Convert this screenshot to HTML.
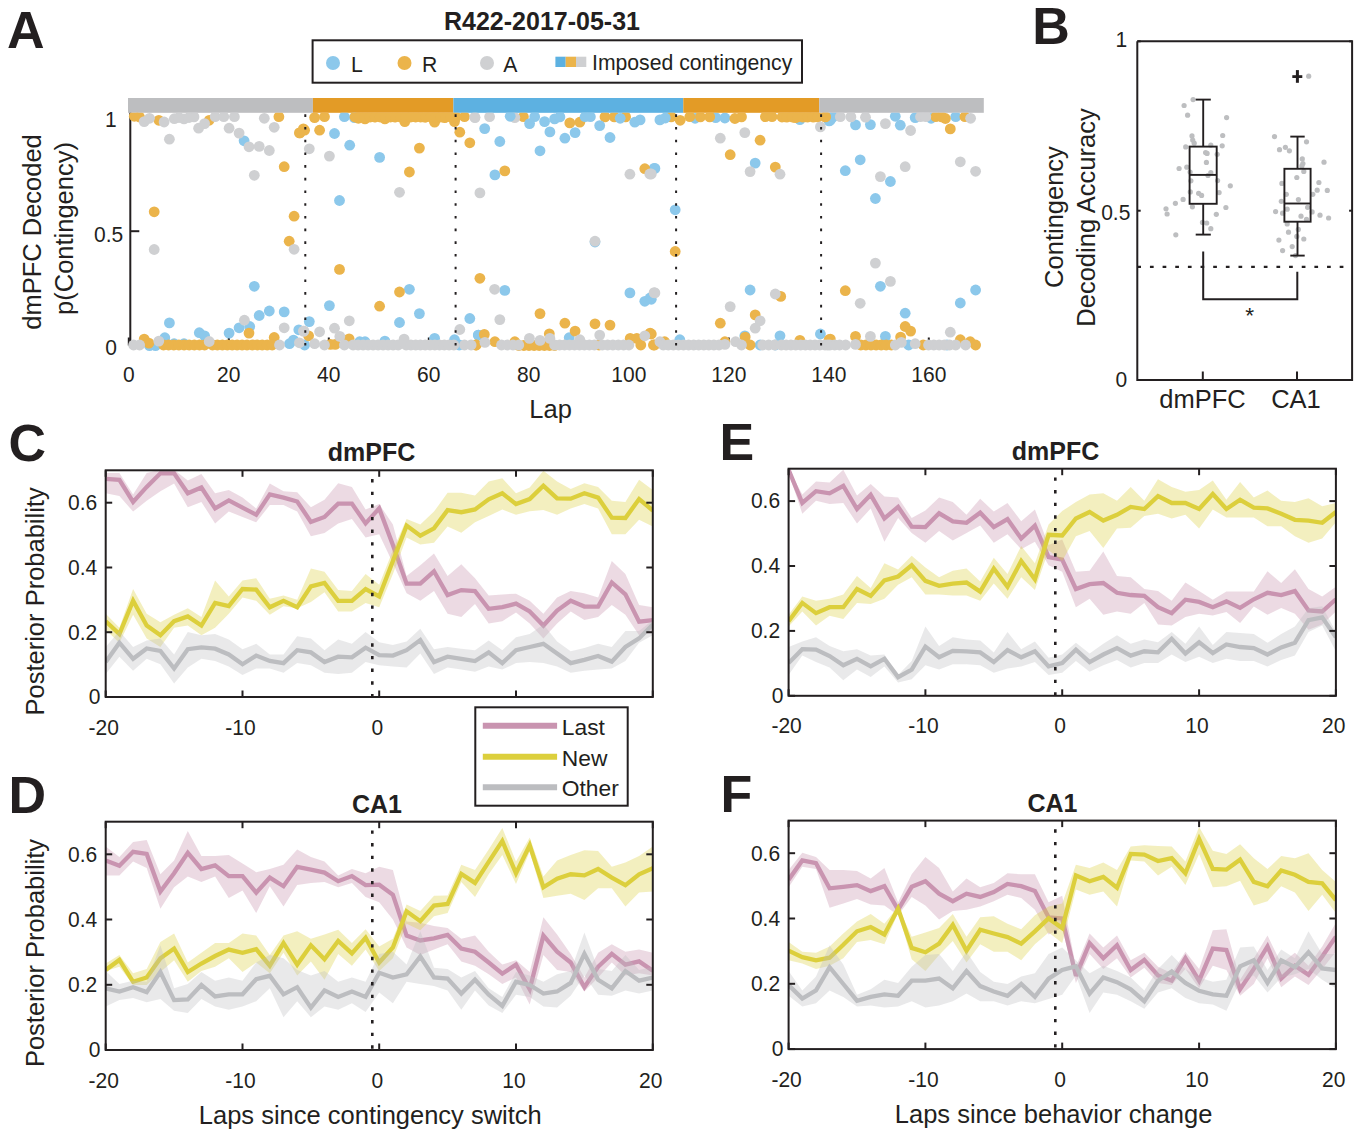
<!DOCTYPE html>
<html><head><meta charset="utf-8"><style>
html,body{margin:0;padding:0;background:#fff;}
body{width:1357px;height:1140px;overflow:hidden;font-family:"Liberation Sans", sans-serif;}
svg{display:block;}
</style></head><body>
<svg width="1357" height="1140" viewBox="0 0 1357 1140" font-family='"Liberation Sans", sans-serif'>
<rect width="1357" height="1140" fill="#ffffff"/>
<clipPath id="clip0"><rect x="105.7" y="470.3" width="547.1" height="226.7"/></clipPath>
<g clip-path="url(#clip0)">
<polygon points="105.7,472.9 119.4,472.9 133.1,494.4 146.7,472.9 160.4,469.7 174.1,469.7 187.8,480.4 201.4,474.0 215.1,493.3 228.8,490.1 242.5,497.6 256.2,508.4 269.8,483.6 283.5,491.2 297.2,492.2 310.9,507.3 324.5,499.8 338.2,483.2 351.9,486.9 365.6,509.4 379.2,504.1 392.9,524.5 406.6,576.1 420.3,565.3 434.0,553.5 447.6,576.1 461.3,564.3 475.0,578.2 488.7,595.4 502.3,594.4 516.0,593.7 529.7,600.8 543.4,613.7 557.1,597.6 570.7,591.1 584.4,593.3 598.1,597.6 611.8,561.0 625.4,573.9 639.1,605.1 652.8,607.2 652.8,633.0 639.1,635.2 625.4,614.8 611.8,605.1 598.1,616.9 584.4,620.1 570.7,611.5 557.1,623.4 543.4,638.4 529.7,623.4 516.0,612.6 502.3,621.2 488.7,623.4 475.0,604.0 461.3,616.9 447.6,613.7 434.0,591.1 420.3,600.8 406.6,593.3 392.9,563.2 379.2,534.2 365.6,537.4 351.9,519.1 338.2,523.4 324.5,533.1 310.9,536.3 297.2,511.6 283.5,505.1 269.8,505.1 256.2,522.3 242.5,517.0 228.8,511.6 215.1,523.4 201.4,501.9 187.8,507.3 174.1,483.6 160.4,491.2 146.7,500.8 133.1,511.6 119.4,496.1 105.7,493.3" fill="#c994b0" fill-opacity="0.35" stroke="none"/>
<polyline points="105.7,478.9 119.4,479.8 133.1,501.9 146.7,486.9 160.4,473.3 174.1,473.3 187.8,493.3 201.4,487.5 215.1,508.4 228.8,500.4 242.5,507.7 256.2,514.8 269.8,494.4 283.5,497.6 297.2,501.5 310.9,521.9 324.5,517.0 338.2,503.6 351.9,503.6 365.6,523.4 379.2,508.4 392.9,544.9 406.6,583.6 420.3,583.6 434.0,571.3 447.6,595.0 461.3,590.1 475.0,591.1 488.7,608.8 502.3,607.2 516.0,603.6 529.7,611.5 543.4,625.5 557.1,610.5 570.7,600.8 584.4,606.6 598.1,606.6 611.8,582.5 625.4,594.4 639.1,621.7 652.8,620.1" fill="none" stroke="#c994b0" stroke-width="4.3" stroke-linejoin="miter" stroke-miterlimit="3"/>
<polygon points="105.7,613.7 119.4,627.7 133.1,589.0 146.7,613.7 160.4,622.3 174.1,614.8 187.8,608.3 201.4,616.9 215.1,580.4 228.8,596.5 242.5,580.4 256.2,578.2 269.8,598.7 283.5,595.4 297.2,599.7 310.9,568.6 324.5,571.8 338.2,590.1 351.9,591.1 365.6,573.9 379.2,584.7 392.9,550.3 406.6,519.1 420.3,524.5 434.0,511.6 447.6,492.7 461.3,492.7 475.0,495.5 488.7,481.5 502.3,478.3 516.0,493.3 529.7,487.5 543.4,470.7 557.1,481.5 570.7,489.0 584.4,483.2 598.1,486.9 611.8,500.8 625.4,501.9 639.1,479.8 652.8,490.1 652.8,526.6 639.1,519.8 625.4,534.2 611.8,534.2 598.1,508.4 584.4,504.1 570.7,508.4 557.1,514.8 543.4,509.9 529.7,511.2 516.0,514.8 502.3,509.4 488.7,515.9 475.0,522.3 461.3,532.7 447.6,526.6 434.0,542.8 420.3,544.5 406.6,537.4 392.9,573.9 379.2,607.2 365.6,602.9 351.9,611.5 338.2,611.5 324.5,592.2 310.9,601.9 297.2,608.3 283.5,606.2 269.8,614.8 256.2,600.8 242.5,597.6 228.8,613.7 215.1,627.7 201.4,635.2 187.8,625.5 174.1,627.7 160.4,647.0 146.7,638.4 133.1,614.8 119.4,642.7 105.7,629.8" fill="#dccf3c" fill-opacity="0.33" stroke="none"/>
<polyline points="105.7,621.2 119.4,634.1 133.1,600.8 146.7,625.5 160.4,635.2 174.1,621.2 187.8,616.5 201.4,625.5 215.1,602.9 228.8,606.2 242.5,589.0 256.2,589.6 269.8,607.2 283.5,600.8 297.2,607.2 310.9,586.4 324.5,583.0 338.2,600.8 351.9,600.8 365.6,589.0 379.2,596.5 392.9,561.0 406.6,525.6 420.3,535.7 434.0,528.4 447.6,510.1 461.3,512.2 475.0,509.4 488.7,499.3 502.3,493.3 516.0,504.1 529.7,499.1 543.4,485.8 557.1,498.3 570.7,498.7 584.4,493.3 598.1,497.6 611.8,517.6 625.4,518.0 639.1,499.1 652.8,510.5" fill="none" stroke="#dccf3c" stroke-width="4.3" stroke-linejoin="miter" stroke-miterlimit="3"/>
<polygon points="105.7,647.0 119.4,630.9 133.1,647.0 146.7,640.6 160.4,638.4 174.1,654.5 187.8,632.0 201.4,635.2 215.1,634.1 228.8,639.5 242.5,649.2 256.2,643.8 269.8,654.5 283.5,654.5 297.2,636.3 310.9,638.4 324.5,650.2 338.2,639.5 351.9,643.8 365.6,632.0 379.2,642.2 392.9,644.9 406.6,641.6 420.3,628.7 434.0,649.2 447.6,647.0 461.3,648.7 475.0,650.2 488.7,640.6 502.3,650.2 516.0,637.3 529.7,634.1 543.4,624.4 557.1,641.6 570.7,651.3 584.4,648.1 598.1,643.8 611.8,647.0 625.4,630.9 639.1,630.9 652.8,620.1 652.8,635.2 639.1,642.7 625.4,661.0 611.8,668.5 598.1,669.6 584.4,670.7 570.7,672.8 557.1,666.4 543.4,663.1 529.7,662.1 516.0,663.1 502.3,669.6 488.7,666.4 475.0,671.7 461.3,669.6 447.6,667.4 434.0,673.9 420.3,653.5 406.6,667.4 392.9,666.4 379.2,665.3 365.6,662.1 351.9,672.8 338.2,673.9 324.5,672.8 310.9,665.3 297.2,663.1 283.5,672.8 269.8,668.5 256.2,668.5 242.5,675.0 228.8,666.4 215.1,661.0 201.4,658.8 187.8,667.4 174.1,683.6 160.4,664.2 146.7,658.8 133.1,670.7 119.4,656.7 105.7,673.9" fill="#bcbdc0" fill-opacity="0.33" stroke="none"/>
<polyline points="105.7,662.1 119.4,642.7 133.1,658.8 146.7,648.5 160.4,650.9 174.1,668.5 187.8,649.2 201.4,647.4 215.1,648.7 228.8,654.5 242.5,664.2 256.2,655.6 269.8,661.0 283.5,663.1 297.2,650.2 310.9,652.4 324.5,662.1 338.2,656.7 351.9,657.3 365.6,647.7 379.2,655.1 392.9,655.6 406.6,650.2 420.3,640.1 434.0,662.1 447.6,656.7 461.3,658.8 475.0,661.0 488.7,652.4 502.3,663.1 516.0,650.2 529.7,647.0 543.4,643.8 557.1,653.5 570.7,663.1 584.4,659.9 598.1,656.0 611.8,661.6 625.4,647.0 639.1,638.4 652.8,624.4" fill="none" stroke="#bcbdc0" stroke-width="4.3" stroke-linejoin="miter" stroke-miterlimit="3"/>
</g>
<line x1="372.3" y1="479.0" x2="372.3" y2="697.0" stroke="#231f20" stroke-width="2.6" stroke-dasharray="3.4 9.24"/>
<rect x="105.7" y="470.3" width="547.1" height="226.7" fill="none" stroke="#231f20" stroke-width="2"/>
<line x1="105.7" y1="697.0" x2="105.7" y2="690.5" stroke="#231f20" stroke-width="2"/>
<line x1="105.7" y1="470.3" x2="105.7" y2="476.8" stroke="#231f20" stroke-width="2"/>
<line x1="242.5" y1="697.0" x2="242.5" y2="690.5" stroke="#231f20" stroke-width="2"/>
<line x1="242.5" y1="470.3" x2="242.5" y2="476.8" stroke="#231f20" stroke-width="2"/>
<line x1="379.2" y1="697.0" x2="379.2" y2="690.5" stroke="#231f20" stroke-width="2"/>
<line x1="379.2" y1="470.3" x2="379.2" y2="476.8" stroke="#231f20" stroke-width="2"/>
<line x1="516.0" y1="697.0" x2="516.0" y2="690.5" stroke="#231f20" stroke-width="2"/>
<line x1="516.0" y1="470.3" x2="516.0" y2="476.8" stroke="#231f20" stroke-width="2"/>
<line x1="652.8" y1="697.0" x2="652.8" y2="690.5" stroke="#231f20" stroke-width="2"/>
<line x1="652.8" y1="470.3" x2="652.8" y2="476.8" stroke="#231f20" stroke-width="2"/>
<line x1="105.7" y1="697.0" x2="112.2" y2="697.0" stroke="#231f20" stroke-width="2"/>
<line x1="652.8" y1="697.0" x2="646.3" y2="697.0" stroke="#231f20" stroke-width="2"/>
<text transform="translate(100.5 704.3) scale(1 1.06)" x="0" y="0" font-size="21.0" text-anchor="end" fill="#231f20" >0</text>
<line x1="105.7" y1="632.2" x2="112.2" y2="632.2" stroke="#231f20" stroke-width="2"/>
<line x1="652.8" y1="632.2" x2="646.3" y2="632.2" stroke="#231f20" stroke-width="2"/>
<text transform="translate(97.2 639.5) scale(1 1.06)" x="0" y="0" font-size="21.0" text-anchor="end" fill="#231f20" >0.2</text>
<line x1="105.7" y1="567.5" x2="112.2" y2="567.5" stroke="#231f20" stroke-width="2"/>
<line x1="652.8" y1="567.5" x2="646.3" y2="567.5" stroke="#231f20" stroke-width="2"/>
<text transform="translate(97.2 574.8) scale(1 1.06)" x="0" y="0" font-size="21.0" text-anchor="end" fill="#231f20" >0.4</text>
<line x1="105.7" y1="502.7" x2="112.2" y2="502.7" stroke="#231f20" stroke-width="2"/>
<line x1="652.8" y1="502.7" x2="646.3" y2="502.7" stroke="#231f20" stroke-width="2"/>
<text transform="translate(97.2 510.0) scale(1 1.06)" x="0" y="0" font-size="21.0" text-anchor="end" fill="#231f20" >0.6</text>
<clipPath id="clip1"><rect x="105.7" y="821.7" width="547.1" height="228.3"/></clipPath>
<g clip-path="url(#clip1)">
<polygon points="105.7,846.4 119.4,857.1 133.1,842.1 146.7,839.9 160.4,874.3 174.1,860.4 187.8,830.9 201.4,856.1 215.1,856.1 228.8,855.0 242.5,863.6 256.2,872.2 269.8,869.0 283.5,864.7 297.2,849.6 310.9,857.1 324.5,861.4 338.2,875.4 351.9,869.0 365.6,873.3 379.2,866.8 392.9,870.0 406.6,921.6 420.3,922.7 434.0,925.9 447.6,928.1 461.3,938.8 475.0,935.6 488.7,951.7 502.3,964.6 516.0,960.3 529.7,972.1 543.4,917.3 557.1,934.5 570.7,953.9 584.4,977.5 598.1,952.8 611.8,944.2 625.4,951.7 639.1,949.6 652.8,952.8 652.8,975.4 639.1,973.2 625.4,975.4 611.8,962.5 598.1,977.5 584.4,991.5 570.7,972.1 557.1,970.0 543.4,954.9 529.7,1004.4 516.0,977.5 502.3,984.0 488.7,974.3 475.0,965.7 461.3,961.4 447.6,944.2 434.0,949.6 420.3,954.9 406.6,947.4 392.9,919.5 379.2,902.3 365.6,896.9 351.9,882.9 338.2,887.2 324.5,881.9 310.9,882.9 297.2,885.1 283.5,906.6 269.8,886.2 256.2,913.0 242.5,890.5 228.8,898.0 215.1,876.5 201.4,881.9 187.8,876.5 174.1,887.2 160.4,908.7 146.7,867.9 133.1,861.4 119.4,875.4 105.7,875.4" fill="#c994b0" fill-opacity="0.35" stroke="none"/>
<polyline points="105.7,860.4 119.4,865.7 133.1,851.8 146.7,853.9 160.4,891.5 174.1,873.3 187.8,852.8 201.4,869.0 215.1,865.3 228.8,876.1 242.5,876.1 256.2,892.6 269.8,877.6 283.5,886.2 297.2,866.8 310.9,869.6 324.5,872.6 338.2,881.2 351.9,876.1 365.6,885.1 379.2,884.7 392.9,894.8 406.6,935.6 420.3,940.5 434.0,938.4 447.6,935.0 461.3,948.5 475.0,951.7 488.7,962.5 502.3,973.7 516.0,964.6 529.7,989.3 543.4,935.6 557.1,951.7 570.7,962.5 584.4,987.2 598.1,966.8 611.8,953.9 625.4,964.6 639.1,961.4 652.8,970.6" fill="none" stroke="#c994b0" stroke-width="4.3" stroke-linejoin="miter" stroke-miterlimit="3"/>
<polygon points="105.7,963.5 119.4,954.9 133.1,973.2 146.7,968.9 160.4,942.1 174.1,933.5 187.8,962.5 201.4,952.8 215.1,943.1 228.8,943.1 242.5,933.5 256.2,935.6 269.8,954.9 283.5,935.6 297.2,931.3 310.9,938.8 324.5,934.5 338.2,929.8 351.9,943.1 365.6,929.2 379.2,946.4 392.9,938.8 406.6,904.4 420.3,910.9 434.0,895.8 447.6,895.4 461.3,864.7 475.0,870.0 488.7,849.6 502.3,828.1 516.0,861.4 529.7,837.4 543.4,876.5 557.1,860.4 570.7,855.0 584.4,850.3 598.1,851.1 611.8,866.8 625.4,862.5 639.1,856.1 652.8,846.4 652.8,891.5 639.1,892.6 625.4,906.6 611.8,888.3 598.1,888.3 584.4,900.1 570.7,893.7 557.1,895.8 543.4,898.0 529.7,851.8 516.0,884.0 502.3,855.0 488.7,874.3 475.0,896.9 461.3,881.9 447.6,913.0 434.0,916.3 420.3,930.2 406.6,923.8 392.9,958.2 379.2,971.1 365.6,949.6 351.9,965.7 338.2,953.9 324.5,979.7 310.9,961.4 297.2,975.4 283.5,952.8 269.8,973.2 256.2,962.5 242.5,972.1 228.8,958.2 215.1,966.8 201.4,971.1 187.8,981.8 174.1,960.3 160.4,972.1 146.7,985.0 133.1,985.0 119.4,966.8 105.7,971.1" fill="#dccf3c" fill-opacity="0.33" stroke="none"/>
<polyline points="105.7,970.0 119.4,959.9 133.1,981.8 146.7,977.5 160.4,958.2 174.1,948.5 187.8,972.1 201.4,963.5 215.1,956.0 228.8,949.6 242.5,952.8 256.2,949.1 269.8,965.7 283.5,943.1 297.2,964.6 310.9,945.3 324.5,959.2 338.2,941.0 351.9,953.4 365.6,937.8 379.2,962.5 392.9,947.4 406.6,911.3 420.3,921.2 434.0,905.5 447.6,904.0 461.3,873.9 475.0,882.9 488.7,861.9 502.3,841.0 516.0,873.3 529.7,845.3 543.4,887.2 557.1,878.6 570.7,874.3 584.4,875.4 598.1,869.0 611.8,877.6 625.4,885.1 639.1,874.3 652.8,868.3" fill="none" stroke="#dccf3c" stroke-width="4.3" stroke-linejoin="miter" stroke-miterlimit="3"/>
<polygon points="105.7,971.1 119.4,984.0 133.1,980.7 146.7,981.8 160.4,945.3 174.1,988.3 187.8,984.0 201.4,972.1 215.1,980.7 228.8,977.5 242.5,980.7 256.2,962.5 269.8,954.9 283.5,958.2 297.2,970.0 310.9,975.4 324.5,971.1 338.2,981.8 351.9,977.5 365.6,981.8 379.2,953.9 392.9,951.7 406.6,964.6 420.3,931.3 434.0,967.8 447.6,968.9 461.3,977.5 475.0,971.1 488.7,988.3 502.3,996.9 516.0,972.1 529.7,975.4 543.4,981.8 557.1,974.3 570.7,971.1 584.4,932.4 598.1,968.9 611.8,971.1 625.4,954.9 639.1,970.0 652.8,966.8 652.8,990.4 639.1,993.6 625.4,990.4 611.8,995.8 598.1,994.7 584.4,975.4 570.7,995.8 557.1,1007.6 543.4,1006.5 529.7,996.9 516.0,994.7 502.3,1013.0 488.7,1005.5 475.0,990.4 461.3,1009.8 447.6,990.4 434.0,986.1 420.3,984.0 406.6,981.8 392.9,1003.3 379.2,992.6 365.6,1011.9 351.9,1003.3 338.2,1009.8 324.5,1006.5 310.9,1017.3 297.2,1001.2 283.5,1017.3 269.8,988.3 256.2,1001.2 242.5,1006.5 228.8,1009.8 215.1,1006.5 201.4,999.0 187.8,1013.0 174.1,1010.8 160.4,999.0 146.7,1002.2 133.1,997.9 119.4,1000.1 105.7,1006.5" fill="#bcbdc0" fill-opacity="0.33" stroke="none"/>
<polyline points="105.7,988.3 119.4,991.5 133.1,987.2 146.7,992.1 160.4,972.1 174.1,1000.1 187.8,999.4 201.4,985.0 215.1,996.4 228.8,994.3 242.5,994.3 256.2,979.2 269.8,975.8 283.5,994.3 297.2,987.2 310.9,1007.6 324.5,990.4 338.2,996.9 351.9,991.5 365.6,996.9 379.2,972.8 392.9,977.5 406.6,974.3 420.3,956.5 434.0,977.5 447.6,978.6 461.3,993.6 475.0,979.7 488.7,994.7 502.3,1005.9 516.0,981.8 529.7,985.0 543.4,993.6 557.1,991.5 570.7,982.9 584.4,953.9 598.1,979.7 611.8,988.3 625.4,971.1 639.1,980.7 652.8,977.5" fill="none" stroke="#bcbdc0" stroke-width="4.3" stroke-linejoin="miter" stroke-miterlimit="3"/>
</g>
<line x1="372.3" y1="830.4" x2="372.3" y2="1050.0" stroke="#231f20" stroke-width="2.6" stroke-dasharray="3.4 9.24"/>
<rect x="105.7" y="821.7" width="547.1" height="228.3" fill="none" stroke="#231f20" stroke-width="2"/>
<line x1="105.7" y1="1050.0" x2="105.7" y2="1043.5" stroke="#231f20" stroke-width="2"/>
<line x1="105.7" y1="821.7" x2="105.7" y2="828.2" stroke="#231f20" stroke-width="2"/>
<line x1="242.5" y1="1050.0" x2="242.5" y2="1043.5" stroke="#231f20" stroke-width="2"/>
<line x1="242.5" y1="821.7" x2="242.5" y2="828.2" stroke="#231f20" stroke-width="2"/>
<line x1="379.2" y1="1050.0" x2="379.2" y2="1043.5" stroke="#231f20" stroke-width="2"/>
<line x1="379.2" y1="821.7" x2="379.2" y2="828.2" stroke="#231f20" stroke-width="2"/>
<line x1="516.0" y1="1050.0" x2="516.0" y2="1043.5" stroke="#231f20" stroke-width="2"/>
<line x1="516.0" y1="821.7" x2="516.0" y2="828.2" stroke="#231f20" stroke-width="2"/>
<line x1="652.8" y1="1050.0" x2="652.8" y2="1043.5" stroke="#231f20" stroke-width="2"/>
<line x1="652.8" y1="821.7" x2="652.8" y2="828.2" stroke="#231f20" stroke-width="2"/>
<line x1="105.7" y1="1050.0" x2="112.2" y2="1050.0" stroke="#231f20" stroke-width="2"/>
<line x1="652.8" y1="1050.0" x2="646.3" y2="1050.0" stroke="#231f20" stroke-width="2"/>
<text transform="translate(100.5 1057.3) scale(1 1.06)" x="0" y="0" font-size="21.0" text-anchor="end" fill="#231f20" >0</text>
<line x1="105.7" y1="984.8" x2="112.2" y2="984.8" stroke="#231f20" stroke-width="2"/>
<line x1="652.8" y1="984.8" x2="646.3" y2="984.8" stroke="#231f20" stroke-width="2"/>
<text transform="translate(97.2 992.1) scale(1 1.06)" x="0" y="0" font-size="21.0" text-anchor="end" fill="#231f20" >0.2</text>
<line x1="105.7" y1="919.5" x2="112.2" y2="919.5" stroke="#231f20" stroke-width="2"/>
<line x1="652.8" y1="919.5" x2="646.3" y2="919.5" stroke="#231f20" stroke-width="2"/>
<text transform="translate(97.2 926.8) scale(1 1.06)" x="0" y="0" font-size="21.0" text-anchor="end" fill="#231f20" >0.4</text>
<line x1="105.7" y1="854.3" x2="112.2" y2="854.3" stroke="#231f20" stroke-width="2"/>
<line x1="652.8" y1="854.3" x2="646.3" y2="854.3" stroke="#231f20" stroke-width="2"/>
<text transform="translate(97.2 861.6) scale(1 1.06)" x="0" y="0" font-size="21.0" text-anchor="end" fill="#231f20" >0.6</text>
<clipPath id="clip2"><rect x="788.6" y="468.7" width="547.3" height="227.1"/></clipPath>
<g clip-path="url(#clip2)">
<polygon points="788.6,468.6 802.3,494.4 816.0,481.5 829.6,482.6 843.3,469.7 857.0,495.5 870.7,484.1 884.4,496.5 898.1,497.6 911.7,518.0 925.4,510.5 939.1,497.6 952.8,501.9 966.5,514.8 980.2,498.7 993.8,511.6 1007.5,503.0 1021.2,521.3 1034.9,509.4 1048.6,544.9 1062.2,539.5 1075.9,571.8 1089.6,570.7 1103.3,551.4 1117.0,576.1 1130.7,577.2 1144.3,589.0 1158.0,591.1 1171.7,600.8 1185.4,582.5 1199.1,591.1 1212.8,599.7 1226.4,591.6 1240.1,591.6 1253.8,591.6 1267.5,571.3 1281.2,583.0 1294.9,569.2 1308.5,589.0 1322.2,596.5 1335.9,586.8 1335.9,611.5 1322.2,624.4 1308.5,629.8 1294.9,613.7 1281.2,607.9 1267.5,614.8 1253.8,606.6 1240.1,622.9 1226.4,612.0 1212.8,615.6 1199.1,613.7 1185.4,616.9 1171.7,625.5 1158.0,624.4 1144.3,602.9 1130.7,613.7 1117.0,611.5 1103.3,614.8 1089.6,598.7 1075.9,607.2 1062.2,571.8 1048.6,565.3 1034.9,541.7 1021.2,549.2 1007.5,534.2 993.8,542.8 980.2,525.6 966.5,533.1 952.8,540.6 939.1,530.9 925.4,542.8 911.7,533.1 898.1,518.0 884.4,541.7 870.7,508.4 857.0,523.4 843.3,503.0 829.6,504.1 816.0,500.8 802.3,513.7 788.6,472.9" fill="#c994b0" fill-opacity="0.35" stroke="none"/>
<polyline points="788.6,469.7 802.3,503.0 816.0,491.2 829.6,493.3 843.3,485.8 857.0,509.0 870.7,494.8 884.4,518.5 898.1,506.9 911.7,526.6 925.4,527.1 939.1,513.3 952.8,521.3 966.5,522.8 980.2,512.7 993.8,527.1 1007.5,519.1 1021.2,538.5 1034.9,525.6 1048.6,557.2 1062.2,559.6 1075.9,589.0 1089.6,584.2 1103.3,583.0 1117.0,592.8 1130.7,595.0 1144.3,595.9 1158.0,607.2 1171.7,613.1 1185.4,599.7 1199.1,601.9 1212.8,607.2 1226.4,601.4 1240.1,607.9 1253.8,599.3 1267.5,592.8 1281.2,595.0 1294.9,591.1 1308.5,610.5 1322.2,611.5 1335.9,599.3" fill="none" stroke="#c994b0" stroke-width="4.3" stroke-linejoin="miter" stroke-miterlimit="3"/>
<polygon points="788.6,614.8 802.3,596.5 816.0,600.8 829.6,598.7 843.3,594.4 857.0,576.1 870.7,587.9 884.4,563.2 898.1,569.6 911.7,555.7 925.4,567.5 939.1,577.2 952.8,570.7 966.5,568.6 980.2,581.5 993.8,557.8 1007.5,573.9 1021.2,546.0 1034.9,563.2 1048.6,524.5 1062.2,511.1 1075.9,501.9 1089.6,494.4 1103.3,493.3 1117.0,500.8 1130.7,486.9 1144.3,500.8 1158.0,479.3 1171.7,486.9 1185.4,491.8 1199.1,490.1 1212.8,480.4 1226.4,499.8 1240.1,481.9 1253.8,497.6 1267.5,490.5 1281.2,500.8 1294.9,501.9 1308.5,498.3 1322.2,506.2 1335.9,503.0 1335.9,522.3 1322.2,538.5 1308.5,542.8 1294.9,536.3 1281.2,526.2 1267.5,526.2 1253.8,517.6 1240.1,517.6 1226.4,517.6 1212.8,509.4 1199.1,528.4 1185.4,514.8 1171.7,518.5 1158.0,513.7 1144.3,515.9 1130.7,527.7 1117.0,528.4 1103.3,548.1 1089.6,530.9 1075.9,536.3 1062.2,561.0 1048.6,550.3 1034.9,590.1 1021.2,577.2 1007.5,598.7 993.8,583.6 980.2,600.8 966.5,595.4 952.8,595.4 939.1,594.4 925.4,594.4 911.7,577.2 898.1,584.7 884.4,598.7 870.7,604.0 857.0,602.9 843.3,619.1 829.6,615.8 816.0,625.5 802.3,611.5 788.6,626.6" fill="#dccf3c" fill-opacity="0.33" stroke="none"/>
<polyline points="788.6,621.2 802.3,602.9 816.0,613.1 829.6,607.2 843.3,607.2 857.0,589.0 870.7,595.9 884.4,580.4 898.1,576.5 911.7,565.3 925.4,580.8 939.1,585.8 952.8,583.6 966.5,582.5 980.2,591.6 993.8,568.6 1007.5,586.8 1021.2,561.0 1034.9,579.3 1048.6,534.8 1062.2,535.5 1075.9,518.5 1089.6,512.0 1103.3,520.6 1117.0,514.8 1130.7,506.9 1144.3,509.0 1158.0,496.1 1171.7,503.0 1185.4,503.0 1199.1,509.0 1212.8,494.0 1226.4,509.0 1240.1,499.8 1253.8,507.7 1267.5,508.4 1281.2,513.7 1294.9,519.8 1308.5,520.6 1322.2,522.8 1335.9,512.0" fill="none" stroke="#dccf3c" stroke-width="4.3" stroke-linejoin="miter" stroke-miterlimit="3"/>
<polygon points="788.6,647.0 802.3,641.6 816.0,637.3 829.6,645.9 843.3,651.3 857.0,649.2 870.7,655.6 884.4,654.5 898.1,675.0 911.7,661.0 925.4,626.6 939.1,645.9 952.8,637.3 966.5,639.5 980.2,640.6 993.8,652.4 1007.5,632.0 1021.2,649.2 1034.9,641.6 1048.6,657.8 1062.2,654.5 1075.9,642.7 1089.6,653.5 1103.3,643.8 1117.0,635.2 1130.7,643.8 1144.3,639.5 1158.0,642.3 1171.7,632.0 1185.4,643.8 1199.1,626.6 1212.8,644.9 1226.4,632.0 1240.1,633.0 1253.8,634.1 1267.5,642.7 1281.2,634.1 1294.9,626.6 1308.5,608.3 1322.2,606.2 1335.9,632.0 1335.9,651.3 1322.2,625.5 1308.5,632.0 1294.9,655.6 1281.2,659.9 1267.5,666.4 1253.8,661.0 1240.1,661.0 1226.4,658.8 1212.8,663.1 1199.1,656.7 1185.4,662.1 1171.7,654.5 1158.0,663.1 1144.3,663.1 1130.7,667.4 1117.0,659.9 1103.3,665.3 1089.6,671.7 1075.9,661.0 1062.2,672.8 1048.6,675.0 1034.9,662.1 1021.2,666.4 1007.5,668.5 993.8,672.8 980.2,665.3 966.5,664.2 952.8,664.2 939.1,669.6 925.4,665.3 911.7,679.3 898.1,682.5 884.4,666.4 870.7,677.1 857.0,669.6 843.3,680.3 829.6,667.4 816.0,662.1 802.3,655.6 788.6,675.0" fill="#bcbdc0" fill-opacity="0.33" stroke="none"/>
<polyline points="788.6,663.1 802.3,649.2 816.0,649.6 829.6,656.0 843.3,665.3 857.0,658.8 870.7,666.4 884.4,658.8 898.1,677.1 911.7,669.6 925.4,646.6 939.1,657.3 952.8,650.9 966.5,651.3 980.2,652.4 993.8,662.1 1007.5,650.2 1021.2,657.3 1034.9,651.3 1048.6,666.4 1062.2,663.1 1075.9,649.6 1089.6,662.1 1103.3,654.5 1117.0,648.1 1130.7,655.6 1144.3,651.3 1158.0,652.4 1171.7,638.8 1185.4,653.5 1199.1,642.3 1212.8,653.0 1226.4,644.4 1240.1,647.0 1253.8,648.1 1267.5,654.5 1281.2,647.4 1294.9,642.7 1308.5,620.1 1322.2,617.4 1335.9,637.3" fill="none" stroke="#bcbdc0" stroke-width="4.3" stroke-linejoin="miter" stroke-miterlimit="3"/>
</g>
<line x1="1055.3" y1="477.4" x2="1055.3" y2="695.8" stroke="#231f20" stroke-width="2.6" stroke-dasharray="3.4 9.24"/>
<rect x="788.6" y="468.7" width="547.3" height="227.1" fill="none" stroke="#231f20" stroke-width="2"/>
<line x1="788.6" y1="695.8" x2="788.6" y2="689.3" stroke="#231f20" stroke-width="2"/>
<line x1="788.6" y1="468.7" x2="788.6" y2="475.2" stroke="#231f20" stroke-width="2"/>
<line x1="925.4" y1="695.8" x2="925.4" y2="689.3" stroke="#231f20" stroke-width="2"/>
<line x1="925.4" y1="468.7" x2="925.4" y2="475.2" stroke="#231f20" stroke-width="2"/>
<line x1="1062.2" y1="695.8" x2="1062.2" y2="689.3" stroke="#231f20" stroke-width="2"/>
<line x1="1062.2" y1="468.7" x2="1062.2" y2="475.2" stroke="#231f20" stroke-width="2"/>
<line x1="1199.1" y1="695.8" x2="1199.1" y2="689.3" stroke="#231f20" stroke-width="2"/>
<line x1="1199.1" y1="468.7" x2="1199.1" y2="475.2" stroke="#231f20" stroke-width="2"/>
<line x1="1335.9" y1="695.8" x2="1335.9" y2="689.3" stroke="#231f20" stroke-width="2"/>
<line x1="1335.9" y1="468.7" x2="1335.9" y2="475.2" stroke="#231f20" stroke-width="2"/>
<line x1="788.6" y1="695.8" x2="795.1" y2="695.8" stroke="#231f20" stroke-width="2"/>
<line x1="1335.9" y1="695.8" x2="1329.4" y2="695.8" stroke="#231f20" stroke-width="2"/>
<text transform="translate(783.4 703.1) scale(1 1.06)" x="0" y="0" font-size="21.0" text-anchor="end" fill="#231f20" >0</text>
<line x1="788.6" y1="630.9" x2="795.1" y2="630.9" stroke="#231f20" stroke-width="2"/>
<line x1="1335.9" y1="630.9" x2="1329.4" y2="630.9" stroke="#231f20" stroke-width="2"/>
<text transform="translate(780.1 638.2) scale(1 1.06)" x="0" y="0" font-size="21.0" text-anchor="end" fill="#231f20" >0.2</text>
<line x1="788.6" y1="566.0" x2="795.1" y2="566.0" stroke="#231f20" stroke-width="2"/>
<line x1="1335.9" y1="566.0" x2="1329.4" y2="566.0" stroke="#231f20" stroke-width="2"/>
<text transform="translate(780.1 573.3) scale(1 1.06)" x="0" y="0" font-size="21.0" text-anchor="end" fill="#231f20" >0.4</text>
<line x1="788.6" y1="501.1" x2="795.1" y2="501.1" stroke="#231f20" stroke-width="2"/>
<line x1="1335.9" y1="501.1" x2="1329.4" y2="501.1" stroke="#231f20" stroke-width="2"/>
<text transform="translate(780.1 508.4) scale(1 1.06)" x="0" y="0" font-size="21.0" text-anchor="end" fill="#231f20" >0.6</text>
<clipPath id="clip3"><rect x="788.6" y="820.6" width="547.3" height="228.5"/></clipPath>
<g clip-path="url(#clip3)">
<polygon points="788.6,870.0 802.3,852.8 816.0,857.1 829.6,870.0 843.3,870.0 857.0,871.1 870.7,878.6 884.4,867.9 898.1,902.3 911.7,874.3 925.4,857.1 939.1,867.9 952.8,891.5 966.5,878.6 980.2,887.2 993.8,882.9 1007.5,873.3 1021.2,874.3 1034.9,874.3 1048.6,902.3 1062.2,895.8 1075.9,966.8 1089.6,933.5 1103.3,947.4 1117.0,935.6 1130.7,960.3 1144.3,952.8 1158.0,966.8 1171.7,973.2 1185.4,951.7 1199.1,968.9 1212.8,930.2 1226.4,929.2 1240.1,979.7 1253.8,958.2 1267.5,935.6 1281.2,963.5 1294.9,952.8 1308.5,965.7 1322.2,946.4 1335.9,922.7 1335.9,951.7 1322.2,968.9 1308.5,985.0 1294.9,976.4 1281.2,987.2 1267.5,958.2 1253.8,984.0 1240.1,995.8 1226.4,970.0 1212.8,965.7 1199.1,988.3 1185.4,968.9 1171.7,985.0 1158.0,982.9 1144.3,967.8 1130.7,977.5 1117.0,958.2 1103.3,968.9 1089.6,953.9 1075.9,982.9 1062.2,928.1 1048.6,934.5 1034.9,909.8 1021.2,898.0 1007.5,894.8 993.8,901.2 980.2,906.6 966.5,909.8 952.8,910.9 939.1,919.5 925.4,905.5 911.7,896.9 898.1,915.2 884.4,905.5 870.7,904.4 857.0,899.1 843.3,903.4 829.6,907.7 816.0,869.0 802.3,866.8 788.6,887.2" fill="#c994b0" fill-opacity="0.35" stroke="none"/>
<polyline points="788.6,879.7 802.3,860.4 816.0,863.2 829.6,888.3 843.3,886.8 857.0,885.1 870.7,891.1 884.4,886.2 898.1,909.8 911.7,886.8 925.4,881.2 939.1,893.7 952.8,901.2 966.5,893.7 980.2,896.9 993.8,892.0 1007.5,884.0 1021.2,886.2 1034.9,891.1 1048.6,917.3 1062.2,918.4 1075.9,975.8 1089.6,943.1 1103.3,958.2 1117.0,945.3 1130.7,970.0 1144.3,959.9 1158.0,975.4 1171.7,980.7 1185.4,958.2 1199.1,980.7 1212.8,948.5 1226.4,950.0 1240.1,989.3 1253.8,968.9 1267.5,946.4 1281.2,978.6 1294.9,965.7 1308.5,974.9 1322.2,956.5 1335.9,936.7" fill="none" stroke="#c994b0" stroke-width="4.3" stroke-linejoin="miter" stroke-miterlimit="3"/>
<polygon points="788.6,942.1 802.3,951.7 816.0,952.8 829.6,946.4 843.3,933.5 857.0,921.6 870.7,914.1 884.4,923.8 898.1,906.6 911.7,936.7 925.4,932.4 939.1,928.1 952.8,914.1 966.5,936.7 980.2,917.3 993.8,916.3 1007.5,923.8 1021.2,929.2 1034.9,915.2 1048.6,906.6 1062.2,903.4 1075.9,864.7 1089.6,867.9 1103.3,862.5 1117.0,870.0 1130.7,846.4 1144.3,845.3 1158.0,846.0 1171.7,846.4 1185.4,861.4 1199.1,827.0 1212.8,850.7 1226.4,853.9 1240.1,844.2 1253.8,858.2 1267.5,869.0 1281.2,856.1 1294.9,858.2 1308.5,853.3 1322.2,870.0 1335.9,881.9 1335.9,913.0 1322.2,894.8 1308.5,910.9 1294.9,892.6 1281.2,886.2 1267.5,901.2 1253.8,905.5 1240.1,880.8 1226.4,886.2 1212.8,887.2 1199.1,853.9 1185.4,885.1 1171.7,866.8 1158.0,875.4 1144.3,861.4 1130.7,860.4 1117.0,906.6 1103.3,891.5 1089.6,894.8 1075.9,889.4 1062.2,943.1 1048.6,932.4 1034.9,944.2 1021.2,960.3 1007.5,951.7 993.8,951.7 980.2,944.2 966.5,962.5 952.8,941.0 939.1,954.9 925.4,971.1 911.7,959.2 898.1,913.0 884.4,944.2 870.7,939.9 857.0,942.1 843.3,958.2 829.6,965.7 816.0,968.9 802.3,963.5 788.6,960.3" fill="#dccf3c" fill-opacity="0.33" stroke="none"/>
<polyline points="788.6,950.7 802.3,957.1 816.0,960.3 829.6,957.7 843.3,944.8 857.0,931.3 870.7,927.0 884.4,934.5 898.1,908.7 911.7,947.9 925.4,952.2 939.1,943.6 952.8,924.9 966.5,950.7 980.2,929.8 993.8,933.5 1007.5,937.1 1021.2,943.6 1034.9,931.3 1048.6,918.4 1062.2,928.1 1075.9,875.4 1089.6,881.2 1103.3,876.9 1117.0,887.7 1130.7,853.9 1144.3,854.6 1158.0,861.0 1171.7,858.2 1185.4,873.3 1199.1,838.9 1212.8,869.0 1226.4,869.6 1240.1,859.7 1253.8,881.9 1267.5,886.2 1281.2,870.5 1294.9,874.8 1308.5,881.9 1322.2,883.4 1335.9,900.1" fill="none" stroke="#dccf3c" stroke-width="4.3" stroke-linejoin="miter" stroke-miterlimit="3"/>
<polygon points="788.6,971.1 802.3,990.4 816.0,976.4 829.6,945.3 843.3,964.6 857.0,994.7 870.7,989.3 884.4,979.7 898.1,982.9 911.7,966.8 925.4,954.9 939.1,953.9 952.8,971.1 966.5,951.7 980.2,972.1 993.8,981.8 1007.5,984.0 1021.2,976.4 1034.9,973.2 1048.6,953.9 1062.2,947.4 1075.9,960.3 1089.6,973.2 1103.3,965.7 1117.0,971.1 1130.7,977.5 1144.3,990.4 1158.0,968.9 1171.7,954.9 1185.4,968.9 1199.1,977.5 1212.8,981.8 1226.4,979.7 1240.1,947.4 1253.8,946.4 1267.5,970.0 1281.2,949.6 1294.9,958.2 1308.5,931.3 1322.2,953.9 1335.9,953.9 1335.9,988.3 1322.2,979.7 1308.5,968.9 1294.9,974.3 1281.2,977.5 1267.5,992.6 1253.8,975.4 1240.1,981.8 1226.4,1010.8 1212.8,1004.4 1199.1,1003.3 1185.4,997.9 1171.7,988.3 1158.0,992.6 1144.3,1008.7 1130.7,1001.2 1117.0,994.7 1103.3,992.6 1089.6,1013.0 1075.9,975.4 1062.2,994.7 1048.6,999.0 1034.9,1003.3 1021.2,1001.2 1007.5,1005.5 993.8,1001.2 980.2,1001.2 966.5,993.6 952.8,1001.2 939.1,1005.5 925.4,1007.6 911.7,1001.2 898.1,1006.5 884.4,1007.6 870.7,1005.5 857.0,1006.5 843.3,996.9 829.6,990.4 816.0,1003.3 802.3,1006.5 788.6,995.8" fill="#bcbdc0" fill-opacity="0.33" stroke="none"/>
<polyline points="788.6,985.0 802.3,998.6 816.0,990.4 829.6,967.2 843.3,984.0 857.0,1000.7 870.7,996.9 884.4,994.3 898.1,995.8 911.7,980.7 925.4,980.7 939.1,978.6 952.8,988.3 966.5,971.1 980.2,986.1 993.8,991.5 1007.5,995.8 1021.2,984.0 1034.9,996.9 1048.6,978.6 1062.2,970.0 1075.9,966.3 1089.6,993.6 1103.3,977.5 1117.0,982.2 1130.7,989.3 1144.3,1001.2 1158.0,980.7 1171.7,971.5 1185.4,982.9 1199.1,990.8 1212.8,994.3 1226.4,995.8 1240.1,966.3 1253.8,960.3 1267.5,982.9 1281.2,960.3 1294.9,967.2 1308.5,952.2 1322.2,968.5 1335.9,970.0" fill="none" stroke="#bcbdc0" stroke-width="4.3" stroke-linejoin="miter" stroke-miterlimit="3"/>
</g>
<line x1="1055.3" y1="829.3" x2="1055.3" y2="1049.1" stroke="#231f20" stroke-width="2.6" stroke-dasharray="3.4 9.24"/>
<rect x="788.6" y="820.6" width="547.3" height="228.5" fill="none" stroke="#231f20" stroke-width="2"/>
<line x1="788.6" y1="1049.1" x2="788.6" y2="1042.6" stroke="#231f20" stroke-width="2"/>
<line x1="788.6" y1="820.6" x2="788.6" y2="827.1" stroke="#231f20" stroke-width="2"/>
<line x1="925.4" y1="1049.1" x2="925.4" y2="1042.6" stroke="#231f20" stroke-width="2"/>
<line x1="925.4" y1="820.6" x2="925.4" y2="827.1" stroke="#231f20" stroke-width="2"/>
<line x1="1062.2" y1="1049.1" x2="1062.2" y2="1042.6" stroke="#231f20" stroke-width="2"/>
<line x1="1062.2" y1="820.6" x2="1062.2" y2="827.1" stroke="#231f20" stroke-width="2"/>
<line x1="1199.1" y1="1049.1" x2="1199.1" y2="1042.6" stroke="#231f20" stroke-width="2"/>
<line x1="1199.1" y1="820.6" x2="1199.1" y2="827.1" stroke="#231f20" stroke-width="2"/>
<line x1="1335.9" y1="1049.1" x2="1335.9" y2="1042.6" stroke="#231f20" stroke-width="2"/>
<line x1="1335.9" y1="820.6" x2="1335.9" y2="827.1" stroke="#231f20" stroke-width="2"/>
<line x1="788.6" y1="1049.1" x2="795.1" y2="1049.1" stroke="#231f20" stroke-width="2"/>
<line x1="1335.9" y1="1049.1" x2="1329.4" y2="1049.1" stroke="#231f20" stroke-width="2"/>
<text transform="translate(783.4 1056.4) scale(1 1.06)" x="0" y="0" font-size="21.0" text-anchor="end" fill="#231f20" >0</text>
<line x1="788.6" y1="983.8" x2="795.1" y2="983.8" stroke="#231f20" stroke-width="2"/>
<line x1="1335.9" y1="983.8" x2="1329.4" y2="983.8" stroke="#231f20" stroke-width="2"/>
<text transform="translate(780.1 991.1) scale(1 1.06)" x="0" y="0" font-size="21.0" text-anchor="end" fill="#231f20" >0.2</text>
<line x1="788.6" y1="918.5" x2="795.1" y2="918.5" stroke="#231f20" stroke-width="2"/>
<line x1="1335.9" y1="918.5" x2="1329.4" y2="918.5" stroke="#231f20" stroke-width="2"/>
<text transform="translate(780.1 925.8) scale(1 1.06)" x="0" y="0" font-size="21.0" text-anchor="end" fill="#231f20" >0.4</text>
<line x1="788.6" y1="853.2" x2="795.1" y2="853.2" stroke="#231f20" stroke-width="2"/>
<line x1="1335.9" y1="853.2" x2="1329.4" y2="853.2" stroke="#231f20" stroke-width="2"/>
<text transform="translate(780.1 860.5) scale(1 1.06)" x="0" y="0" font-size="21.0" text-anchor="end" fill="#231f20" >0.6</text>
<text transform="translate(103.7 734.5) scale(1 1.06)" x="0" y="0" font-size="21.0" text-anchor="middle" fill="#231f20" >-20</text>
<text transform="translate(240.5 734.5) scale(1 1.06)" x="0" y="0" font-size="21.0" text-anchor="middle" fill="#231f20" >-10</text>
<text transform="translate(377.3 734.5) scale(1 1.06)" x="0" y="0" font-size="21.0" text-anchor="middle" fill="#231f20" >0</text>
<text transform="translate(103.7 1087.5) scale(1 1.06)" x="0" y="0" font-size="21.0" text-anchor="middle" fill="#231f20" >-20</text>
<text transform="translate(240.5 1087.5) scale(1 1.06)" x="0" y="0" font-size="21.0" text-anchor="middle" fill="#231f20" >-10</text>
<text transform="translate(377.3 1087.5) scale(1 1.06)" x="0" y="0" font-size="21.0" text-anchor="middle" fill="#231f20" >0</text>
<text transform="translate(514.0 1087.5) scale(1 1.06)" x="0" y="0" font-size="21.0" text-anchor="middle" fill="#231f20" >10</text>
<text transform="translate(650.8 1087.5) scale(1 1.06)" x="0" y="0" font-size="21.0" text-anchor="middle" fill="#231f20" >20</text>
<text transform="translate(786.6 733.0) scale(1 1.06)" x="0" y="0" font-size="21.0" text-anchor="middle" fill="#231f20" >-20</text>
<text transform="translate(923.4 733.0) scale(1 1.06)" x="0" y="0" font-size="21.0" text-anchor="middle" fill="#231f20" >-10</text>
<text transform="translate(1060.2 733.0) scale(1 1.06)" x="0" y="0" font-size="21.0" text-anchor="middle" fill="#231f20" >0</text>
<text transform="translate(1197.0 733.0) scale(1 1.06)" x="0" y="0" font-size="21.0" text-anchor="middle" fill="#231f20" >10</text>
<text transform="translate(1333.8 733.0) scale(1 1.06)" x="0" y="0" font-size="21.0" text-anchor="middle" fill="#231f20" >20</text>
<text transform="translate(786.6 1086.5) scale(1 1.06)" x="0" y="0" font-size="21.0" text-anchor="middle" fill="#231f20" >-20</text>
<text transform="translate(923.4 1086.5) scale(1 1.06)" x="0" y="0" font-size="21.0" text-anchor="middle" fill="#231f20" >-10</text>
<text transform="translate(1060.2 1086.5) scale(1 1.06)" x="0" y="0" font-size="21.0" text-anchor="middle" fill="#231f20" >0</text>
<text transform="translate(1197.0 1086.5) scale(1 1.06)" x="0" y="0" font-size="21.0" text-anchor="middle" fill="#231f20" >10</text>
<text transform="translate(1333.8 1086.5) scale(1 1.06)" x="0" y="0" font-size="21.0" text-anchor="middle" fill="#231f20" >20</text>
<text x="371.6" y="461.2" font-size="25.0" text-anchor="middle" font-weight="bold" fill="#231f20" >dmPFC</text>
<text x="377.0" y="812.5" font-size="25.0" text-anchor="middle" font-weight="bold" fill="#231f20" >CA1</text>
<text x="1055.5" y="459.5" font-size="25.0" text-anchor="middle" font-weight="bold" fill="#231f20" >dmPFC</text>
<text x="1052.5" y="811.5" font-size="25.0" text-anchor="middle" font-weight="bold" fill="#231f20" >CA1</text>
<text x="44.0" y="601.4" font-size="25.5" text-anchor="middle" transform="rotate(-90 44.0 601.4)" fill="#231f20" >Posterior Probability</text>
<text x="44.0" y="953.0" font-size="25.5" text-anchor="middle" transform="rotate(-90 44.0 953.0)" fill="#231f20" >Posterior Probability</text>
<text x="370.3" y="1124.2" font-size="25.5" text-anchor="middle" fill="#231f20" >Laps since contingency switch</text>
<text x="1053.6" y="1123.2" font-size="25.5" text-anchor="middle" fill="#231f20" >Laps since behavior change</text>
<rect x="475.3" y="707.3" width="152.4" height="98.4" fill="#ffffff" stroke="#231f20" stroke-width="2"/>
<line x1="482.8" y1="725.8" x2="557.1" y2="725.8" stroke="#c994b0" stroke-width="6"/>
<text x="561.8" y="734.6" font-size="22.8" text-anchor="start" fill="#231f20" >Last</text>
<line x1="482.8" y1="756.7" x2="557.1" y2="756.7" stroke="#dccf3c" stroke-width="6"/>
<text x="561.8" y="765.5" font-size="22.8" text-anchor="start" fill="#231f20" >New</text>
<line x1="482.8" y1="787.2" x2="557.1" y2="787.2" stroke="#bcbdc0" stroke-width="6"/>
<text x="561.8" y="796.0" font-size="22.8" text-anchor="start" fill="#231f20" >Other</text>
<text x="7.1" y="47.8" font-size="52.0" text-anchor="start" font-weight="bold" fill="#231f20" >A</text>
<text x="1032.3" y="43.9" font-size="52.0" text-anchor="start" font-weight="bold" fill="#231f20" >B</text>
<text x="8.6" y="460.5" font-size="52.0" text-anchor="start" font-weight="bold" fill="#231f20" >C</text>
<text x="8.6" y="812.5" font-size="52.0" text-anchor="start" font-weight="bold" fill="#231f20" >D</text>
<text x="719.5" y="460.3" font-size="52.0" text-anchor="start" font-weight="bold" fill="#231f20" >E</text>
<text x="720.5" y="812.3" font-size="52.0" text-anchor="start" font-weight="bold" fill="#231f20" >F</text>
<rect x="128.0" y="98.0" width="184.89999999999998" height="14.8" fill="#bdbec0"/>
<rect x="312.9" y="98.0" width="140.5" height="14.8" fill="#e39b26"/>
<rect x="453.4" y="98.0" width="229.89999999999998" height="14.8" fill="#5db1e1"/>
<rect x="683.3" y="98.0" width="135.9000000000001" height="14.8" fill="#e39b26"/>
<rect x="819.2" y="98.0" width="164.5999999999999" height="14.8" fill="#bdbec0"/>
<line x1="130.3" y1="112.8" x2="130.3" y2="347.5" stroke="#231f20" stroke-width="2"/>
<line x1="130.3" y1="117.0" x2="139.3" y2="117.0" stroke="#231f20" stroke-width="2"/>
<text transform="translate(110.8 126.9) scale(1 1.06)" x="0" y="0" font-size="21.0" text-anchor="middle" fill="#231f20" >1</text>
<line x1="130.3" y1="231.2" x2="139.3" y2="231.2" stroke="#231f20" stroke-width="2"/>
<text transform="translate(108.6 241.8) scale(1 1.06)" x="0" y="0" font-size="21.0" text-anchor="middle" fill="#231f20" >0.5</text>
<line x1="130.3" y1="345.5" x2="139.3" y2="345.5" stroke="#231f20" stroke-width="2"/>
<text transform="translate(111.2 355.2) scale(1 1.06)" x="0" y="0" font-size="21.0" text-anchor="middle" fill="#231f20" >0</text>
<line x1="128.8" y1="345.5" x2="128.8" y2="337.5" stroke="#231f20" stroke-width="2"/>
<text transform="translate(128.8 381.5) scale(1 1.06)" x="0" y="0" font-size="21.0" text-anchor="middle" fill="#231f20" >0</text>
<line x1="228.8" y1="345.5" x2="228.8" y2="337.5" stroke="#231f20" stroke-width="2"/>
<text transform="translate(228.8 381.5) scale(1 1.06)" x="0" y="0" font-size="21.0" text-anchor="middle" fill="#231f20" >20</text>
<line x1="328.8" y1="345.5" x2="328.8" y2="337.5" stroke="#231f20" stroke-width="2"/>
<text transform="translate(328.8 381.5) scale(1 1.06)" x="0" y="0" font-size="21.0" text-anchor="middle" fill="#231f20" >40</text>
<line x1="428.8" y1="345.5" x2="428.8" y2="337.5" stroke="#231f20" stroke-width="2"/>
<text transform="translate(428.8 381.5) scale(1 1.06)" x="0" y="0" font-size="21.0" text-anchor="middle" fill="#231f20" >60</text>
<line x1="528.8" y1="345.5" x2="528.8" y2="337.5" stroke="#231f20" stroke-width="2"/>
<text transform="translate(528.8 381.5) scale(1 1.06)" x="0" y="0" font-size="21.0" text-anchor="middle" fill="#231f20" >80</text>
<line x1="628.8" y1="345.5" x2="628.8" y2="337.5" stroke="#231f20" stroke-width="2"/>
<text transform="translate(628.8 381.5) scale(1 1.06)" x="0" y="0" font-size="21.0" text-anchor="middle" fill="#231f20" >100</text>
<line x1="728.8" y1="345.5" x2="728.8" y2="337.5" stroke="#231f20" stroke-width="2"/>
<text transform="translate(728.8 381.5) scale(1 1.06)" x="0" y="0" font-size="21.0" text-anchor="middle" fill="#231f20" >120</text>
<line x1="828.8" y1="345.5" x2="828.8" y2="337.5" stroke="#231f20" stroke-width="2"/>
<text transform="translate(828.8 381.5) scale(1 1.06)" x="0" y="0" font-size="21.0" text-anchor="middle" fill="#231f20" >140</text>
<line x1="928.8" y1="345.5" x2="928.8" y2="337.5" stroke="#231f20" stroke-width="2"/>
<text transform="translate(928.8 381.5) scale(1 1.06)" x="0" y="0" font-size="21.0" text-anchor="middle" fill="#231f20" >160</text>
<clipPath id="clipA"><rect x="100" y="112.8" width="900" height="260"/></clipPath>
<g clip-path="url(#clipA)">
<circle cx="244.1" cy="140.8" r="5.4" fill="#8cc8eb"/>
<circle cx="254.3" cy="286.3" r="5.4" fill="#8cc8eb"/>
<circle cx="169.4" cy="322.9" r="5.4" fill="#8cc8eb"/>
<circle cx="199.3" cy="332.7" r="5.4" fill="#8cc8eb"/>
<circle cx="204.6" cy="335.8" r="5.4" fill="#8cc8eb"/>
<circle cx="229.1" cy="333.1" r="5.4" fill="#8cc8eb"/>
<circle cx="239.1" cy="327.8" r="5.4" fill="#8cc8eb"/>
<circle cx="249.7" cy="326.5" r="5.4" fill="#8cc8eb"/>
<circle cx="259.2" cy="315.5" r="5.4" fill="#8cc8eb"/>
<circle cx="269.3" cy="311.0" r="5.4" fill="#8cc8eb"/>
<circle cx="284.2" cy="311.9" r="5.4" fill="#8cc8eb"/>
<circle cx="298.8" cy="329.8" r="5.4" fill="#8cc8eb"/>
<circle cx="293.5" cy="340.1" r="5.4" fill="#8cc8eb"/>
<circle cx="164.8" cy="337.7" r="5.4" fill="#8cc8eb"/>
<circle cx="289.5" cy="343.7" r="5.4" fill="#8cc8eb"/>
<circle cx="174.1" cy="343.7" r="5.4" fill="#8cc8eb"/>
<circle cx="184.0" cy="343.7" r="5.4" fill="#8cc8eb"/>
<circle cx="149.5" cy="345.7" r="5.4" fill="#8cc8eb"/>
<circle cx="155.5" cy="345.7" r="5.4" fill="#8cc8eb"/>
<circle cx="344.4" cy="116.7" r="5.4" fill="#8cc8eb"/>
<circle cx="354.4" cy="117.6" r="5.4" fill="#8cc8eb"/>
<circle cx="334.5" cy="133.5" r="5.4" fill="#8cc8eb"/>
<circle cx="349.7" cy="145.2" r="5.4" fill="#8cc8eb"/>
<circle cx="379.6" cy="157.4" r="5.4" fill="#8cc8eb"/>
<circle cx="339.5" cy="200.5" r="5.4" fill="#8cc8eb"/>
<circle cx="329.4" cy="305.6" r="5.4" fill="#8cc8eb"/>
<circle cx="309.3" cy="321.6" r="5.4" fill="#8cc8eb"/>
<circle cx="409.4" cy="289.3" r="5.4" fill="#8cc8eb"/>
<circle cx="399.5" cy="322.5" r="5.4" fill="#8cc8eb"/>
<circle cx="419.4" cy="313.6" r="5.4" fill="#8cc8eb"/>
<circle cx="434.6" cy="338.4" r="5.4" fill="#8cc8eb"/>
<circle cx="454.5" cy="339.7" r="5.4" fill="#8cc8eb"/>
<circle cx="469.8" cy="318.5" r="5.4" fill="#8cc8eb"/>
<circle cx="478.4" cy="335.1" r="5.4" fill="#8cc8eb"/>
<circle cx="304.6" cy="345.0" r="5.4" fill="#8cc8eb"/>
<circle cx="359.7" cy="341.7" r="5.4" fill="#8cc8eb"/>
<circle cx="365.0" cy="341.7" r="5.4" fill="#8cc8eb"/>
<circle cx="384.9" cy="341.1" r="5.4" fill="#8cc8eb"/>
<circle cx="459.2" cy="345.0" r="5.4" fill="#8cc8eb"/>
<circle cx="499.8" cy="141.5" r="5.4" fill="#8cc8eb"/>
<circle cx="564.9" cy="138.2" r="5.4" fill="#8cc8eb"/>
<circle cx="610.0" cy="137.5" r="5.4" fill="#8cc8eb"/>
<circle cx="540.0" cy="150.8" r="5.4" fill="#8cc8eb"/>
<circle cx="494.9" cy="174.9" r="5.4" fill="#8cc8eb"/>
<circle cx="654.1" cy="168.4" r="5.4" fill="#8cc8eb"/>
<circle cx="595.0" cy="242.0" r="5.4" fill="#8cc8eb"/>
<circle cx="504.8" cy="290.4" r="5.4" fill="#8cc8eb"/>
<circle cx="629.9" cy="292.9" r="5.4" fill="#8cc8eb"/>
<circle cx="644.8" cy="301.3" r="5.4" fill="#8cc8eb"/>
<circle cx="650.1" cy="298.0" r="5.4" fill="#8cc8eb"/>
<circle cx="478.3" cy="335.1" r="5.4" fill="#8cc8eb"/>
<circle cx="569.2" cy="337.7" r="5.4" fill="#8cc8eb"/>
<circle cx="695.1" cy="118.3" r="5.4" fill="#8cc8eb"/>
<circle cx="715.7" cy="117.6" r="5.4" fill="#8cc8eb"/>
<circle cx="724.9" cy="118.0" r="5.4" fill="#8cc8eb"/>
<circle cx="799.9" cy="119.6" r="5.4" fill="#8cc8eb"/>
<circle cx="829.1" cy="120.9" r="5.4" fill="#8cc8eb"/>
<circle cx="755.2" cy="163.1" r="5.4" fill="#8cc8eb"/>
<circle cx="654.9" cy="168.4" r="5.4" fill="#8cc8eb"/>
<circle cx="675.2" cy="209.8" r="5.4" fill="#8cc8eb"/>
<circle cx="651.3" cy="299.3" r="5.4" fill="#8cc8eb"/>
<circle cx="750.1" cy="290.0" r="5.4" fill="#8cc8eb"/>
<circle cx="744.8" cy="335.8" r="5.4" fill="#8cc8eb"/>
<circle cx="780.0" cy="335.8" r="5.4" fill="#8cc8eb"/>
<circle cx="820.4" cy="334.0" r="5.4" fill="#8cc8eb"/>
<circle cx="679.8" cy="339.7" r="5.4" fill="#8cc8eb"/>
<circle cx="760.1" cy="345.0" r="5.4" fill="#8cc8eb"/>
<circle cx="775.3" cy="345.0" r="5.4" fill="#8cc8eb"/>
<circle cx="830.3" cy="120.3" r="5.4" fill="#8cc8eb"/>
<circle cx="833.0" cy="116.9" r="5.4" fill="#8cc8eb"/>
<circle cx="855.5" cy="124.9" r="5.4" fill="#8cc8eb"/>
<circle cx="870.4" cy="124.6" r="5.4" fill="#8cc8eb"/>
<circle cx="895.3" cy="116.3" r="5.4" fill="#8cc8eb"/>
<circle cx="900.3" cy="125.2" r="5.4" fill="#8cc8eb"/>
<circle cx="915.2" cy="117.6" r="5.4" fill="#8cc8eb"/>
<circle cx="931.1" cy="118.3" r="5.4" fill="#8cc8eb"/>
<circle cx="955.7" cy="116.7" r="5.4" fill="#8cc8eb"/>
<circle cx="860.2" cy="159.8" r="5.4" fill="#8cc8eb"/>
<circle cx="845.3" cy="170.7" r="5.4" fill="#8cc8eb"/>
<circle cx="890.4" cy="181.5" r="5.4" fill="#8cc8eb"/>
<circle cx="875.4" cy="198.5" r="5.4" fill="#8cc8eb"/>
<circle cx="880.4" cy="286.3" r="5.4" fill="#8cc8eb"/>
<circle cx="905.2" cy="313.2" r="5.4" fill="#8cc8eb"/>
<circle cx="975.6" cy="290.0" r="5.4" fill="#8cc8eb"/>
<circle cx="960.3" cy="303.0" r="5.4" fill="#8cc8eb"/>
<circle cx="885.4" cy="336.4" r="5.4" fill="#8cc8eb"/>
<circle cx="908.6" cy="345.0" r="5.4" fill="#8cc8eb"/>
<circle cx="947.0" cy="345.0" r="5.4" fill="#8cc8eb"/>
<circle cx="134.3" cy="116.3" r="5.4" fill="#ebb44b"/>
<circle cx="158.8" cy="120.3" r="5.4" fill="#ebb44b"/>
<circle cx="209.2" cy="120.3" r="5.4" fill="#ebb44b"/>
<circle cx="278.9" cy="116.7" r="5.4" fill="#ebb44b"/>
<circle cx="299.4" cy="132.9" r="5.4" fill="#ebb44b"/>
<circle cx="303.4" cy="128.9" r="5.4" fill="#ebb44b"/>
<circle cx="284.2" cy="166.7" r="5.4" fill="#ebb44b"/>
<circle cx="154.2" cy="211.8" r="5.4" fill="#ebb44b"/>
<circle cx="294.1" cy="216.2" r="5.4" fill="#ebb44b"/>
<circle cx="289.2" cy="241.2" r="5.4" fill="#ebb44b"/>
<circle cx="249.0" cy="333.1" r="5.4" fill="#ebb44b"/>
<circle cx="274.2" cy="337.5" r="5.4" fill="#ebb44b"/>
<circle cx="144.2" cy="339.1" r="5.4" fill="#ebb44b"/>
<circle cx="148.9" cy="343.1" r="5.4" fill="#ebb44b"/>
<circle cx="314.6" cy="117.6" r="5.4" fill="#ebb44b"/>
<circle cx="324.5" cy="116.7" r="5.4" fill="#ebb44b"/>
<circle cx="358.4" cy="118.3" r="5.4" fill="#ebb44b"/>
<circle cx="365.0" cy="118.9" r="5.4" fill="#ebb44b"/>
<circle cx="374.3" cy="116.9" r="5.4" fill="#ebb44b"/>
<circle cx="384.9" cy="118.9" r="5.4" fill="#ebb44b"/>
<circle cx="394.2" cy="116.9" r="5.4" fill="#ebb44b"/>
<circle cx="404.8" cy="121.6" r="5.4" fill="#ebb44b"/>
<circle cx="414.7" cy="116.7" r="5.4" fill="#ebb44b"/>
<circle cx="424.7" cy="117.2" r="5.4" fill="#ebb44b"/>
<circle cx="434.6" cy="122.2" r="5.4" fill="#ebb44b"/>
<circle cx="444.6" cy="117.6" r="5.4" fill="#ebb44b"/>
<circle cx="454.5" cy="121.6" r="5.4" fill="#ebb44b"/>
<circle cx="464.5" cy="116.7" r="5.4" fill="#ebb44b"/>
<circle cx="304.6" cy="130.2" r="5.4" fill="#ebb44b"/>
<circle cx="300.0" cy="132.9" r="5.4" fill="#ebb44b"/>
<circle cx="319.6" cy="130.2" r="5.4" fill="#ebb44b"/>
<circle cx="419.4" cy="148.1" r="5.4" fill="#ebb44b"/>
<circle cx="409.4" cy="172.0" r="5.4" fill="#ebb44b"/>
<circle cx="459.8" cy="132.2" r="5.4" fill="#ebb44b"/>
<circle cx="469.8" cy="142.8" r="5.4" fill="#ebb44b"/>
<circle cx="339.5" cy="269.4" r="5.4" fill="#ebb44b"/>
<circle cx="308.6" cy="335.8" r="5.4" fill="#ebb44b"/>
<circle cx="349.1" cy="338.8" r="5.4" fill="#ebb44b"/>
<circle cx="379.6" cy="306.2" r="5.4" fill="#ebb44b"/>
<circle cx="399.5" cy="292.0" r="5.4" fill="#ebb44b"/>
<circle cx="330.5" cy="344.4" r="5.4" fill="#ebb44b"/>
<circle cx="335.2" cy="344.4" r="5.4" fill="#ebb44b"/>
<circle cx="475.8" cy="345.0" r="5.4" fill="#ebb44b"/>
<circle cx="523.4" cy="116.7" r="5.4" fill="#ebb44b"/>
<circle cx="569.8" cy="122.9" r="5.4" fill="#ebb44b"/>
<circle cx="579.8" cy="122.2" r="5.4" fill="#ebb44b"/>
<circle cx="605.0" cy="116.9" r="5.4" fill="#ebb44b"/>
<circle cx="614.3" cy="116.9" r="5.4" fill="#ebb44b"/>
<circle cx="625.6" cy="116.9" r="5.4" fill="#ebb44b"/>
<circle cx="504.8" cy="170.9" r="5.4" fill="#ebb44b"/>
<circle cx="644.8" cy="168.7" r="5.4" fill="#ebb44b"/>
<circle cx="479.9" cy="278.3" r="5.4" fill="#ebb44b"/>
<circle cx="540.0" cy="313.6" r="5.4" fill="#ebb44b"/>
<circle cx="564.9" cy="323.2" r="5.4" fill="#ebb44b"/>
<circle cx="575.1" cy="331.1" r="5.4" fill="#ebb44b"/>
<circle cx="595.0" cy="323.8" r="5.4" fill="#ebb44b"/>
<circle cx="610.0" cy="325.1" r="5.4" fill="#ebb44b"/>
<circle cx="484.3" cy="334.4" r="5.4" fill="#ebb44b"/>
<circle cx="494.9" cy="341.7" r="5.4" fill="#ebb44b"/>
<circle cx="476.3" cy="345.0" r="5.4" fill="#ebb44b"/>
<circle cx="514.8" cy="341.7" r="5.4" fill="#ebb44b"/>
<circle cx="549.3" cy="333.8" r="5.4" fill="#ebb44b"/>
<circle cx="599.0" cy="345.0" r="5.4" fill="#ebb44b"/>
<circle cx="630.2" cy="338.4" r="5.4" fill="#ebb44b"/>
<circle cx="636.8" cy="338.4" r="5.4" fill="#ebb44b"/>
<circle cx="650.1" cy="333.1" r="5.4" fill="#ebb44b"/>
<circle cx="653.4" cy="345.0" r="5.4" fill="#ebb44b"/>
<circle cx="640.8" cy="345.0" r="5.4" fill="#ebb44b"/>
<circle cx="671.2" cy="116.9" r="5.4" fill="#ebb44b"/>
<circle cx="680.2" cy="120.3" r="5.4" fill="#ebb44b"/>
<circle cx="689.8" cy="116.7" r="5.4" fill="#ebb44b"/>
<circle cx="700.4" cy="116.9" r="5.4" fill="#ebb44b"/>
<circle cx="709.7" cy="116.9" r="5.4" fill="#ebb44b"/>
<circle cx="734.9" cy="118.5" r="5.4" fill="#ebb44b"/>
<circle cx="741.5" cy="116.9" r="5.4" fill="#ebb44b"/>
<circle cx="765.4" cy="116.7" r="5.4" fill="#ebb44b"/>
<circle cx="772.0" cy="116.7" r="5.4" fill="#ebb44b"/>
<circle cx="785.3" cy="116.9" r="5.4" fill="#ebb44b"/>
<circle cx="795.2" cy="117.6" r="5.4" fill="#ebb44b"/>
<circle cx="805.2" cy="116.9" r="5.4" fill="#ebb44b"/>
<circle cx="814.5" cy="116.9" r="5.4" fill="#ebb44b"/>
<circle cx="825.1" cy="116.9" r="5.4" fill="#ebb44b"/>
<circle cx="760.1" cy="140.2" r="5.4" fill="#ebb44b"/>
<circle cx="730.2" cy="154.7" r="5.4" fill="#ebb44b"/>
<circle cx="775.3" cy="167.1" r="5.4" fill="#ebb44b"/>
<circle cx="675.2" cy="251.5" r="5.4" fill="#ebb44b"/>
<circle cx="720.3" cy="323.2" r="5.4" fill="#ebb44b"/>
<circle cx="780.7" cy="296.4" r="5.4" fill="#ebb44b"/>
<circle cx="755.2" cy="314.9" r="5.4" fill="#ebb44b"/>
<circle cx="651.3" cy="334.0" r="5.4" fill="#ebb44b"/>
<circle cx="745.2" cy="337.1" r="5.4" fill="#ebb44b"/>
<circle cx="750.1" cy="345.0" r="5.4" fill="#ebb44b"/>
<circle cx="799.9" cy="340.4" r="5.4" fill="#ebb44b"/>
<circle cx="829.1" cy="339.7" r="5.4" fill="#ebb44b"/>
<circle cx="654.6" cy="345.0" r="5.4" fill="#ebb44b"/>
<circle cx="664.6" cy="341.7" r="5.4" fill="#ebb44b"/>
<circle cx="724.9" cy="341.7" r="5.4" fill="#ebb44b"/>
<circle cx="825.7" cy="116.7" r="5.4" fill="#ebb44b"/>
<circle cx="935.8" cy="116.7" r="5.4" fill="#ebb44b"/>
<circle cx="941.7" cy="116.9" r="5.4" fill="#ebb44b"/>
<circle cx="945.4" cy="118.5" r="5.4" fill="#ebb44b"/>
<circle cx="950.3" cy="128.9" r="5.4" fill="#ebb44b"/>
<circle cx="964.9" cy="116.7" r="5.4" fill="#ebb44b"/>
<circle cx="845.3" cy="290.7" r="5.4" fill="#ebb44b"/>
<circle cx="905.2" cy="326.5" r="5.4" fill="#ebb44b"/>
<circle cx="910.6" cy="331.1" r="5.4" fill="#ebb44b"/>
<circle cx="830.3" cy="339.1" r="5.4" fill="#ebb44b"/>
<circle cx="855.5" cy="336.4" r="5.4" fill="#ebb44b"/>
<circle cx="900.6" cy="337.1" r="5.4" fill="#ebb44b"/>
<circle cx="923.2" cy="345.0" r="5.4" fill="#ebb44b"/>
<circle cx="960.3" cy="339.7" r="5.4" fill="#ebb44b"/>
<circle cx="970.2" cy="341.7" r="5.4" fill="#ebb44b"/>
<circle cx="975.6" cy="345.0" r="5.4" fill="#ebb44b"/>
<circle cx="139.5" cy="117.0" r="5.4" fill="#ebb44b"/>
<circle cx="163.5" cy="345.0" r="5.4" fill="#ebb44b"/>
<circle cx="168.6" cy="345.0" r="5.4" fill="#ebb44b"/>
<circle cx="173.8" cy="345.0" r="5.4" fill="#ebb44b"/>
<circle cx="178.9" cy="345.0" r="5.4" fill="#ebb44b"/>
<circle cx="184.1" cy="345.0" r="5.4" fill="#ebb44b"/>
<circle cx="189.2" cy="345.0" r="5.4" fill="#ebb44b"/>
<circle cx="194.3" cy="345.0" r="5.4" fill="#ebb44b"/>
<circle cx="199.5" cy="345.0" r="5.4" fill="#ebb44b"/>
<circle cx="204.6" cy="345.0" r="5.4" fill="#ebb44b"/>
<circle cx="212.5" cy="345.0" r="5.4" fill="#ebb44b"/>
<circle cx="217.4" cy="345.0" r="5.4" fill="#ebb44b"/>
<circle cx="222.4" cy="345.0" r="5.4" fill="#ebb44b"/>
<circle cx="227.3" cy="345.0" r="5.4" fill="#ebb44b"/>
<circle cx="232.2" cy="345.0" r="5.4" fill="#ebb44b"/>
<circle cx="237.1" cy="345.0" r="5.4" fill="#ebb44b"/>
<circle cx="242.1" cy="345.0" r="5.4" fill="#ebb44b"/>
<circle cx="247.0" cy="345.0" r="5.4" fill="#ebb44b"/>
<circle cx="252.3" cy="345.0" r="5.4" fill="#ebb44b"/>
<circle cx="257.3" cy="345.0" r="5.4" fill="#ebb44b"/>
<circle cx="262.2" cy="345.0" r="5.4" fill="#ebb44b"/>
<circle cx="267.2" cy="345.0" r="5.4" fill="#ebb44b"/>
<circle cx="272.2" cy="345.0" r="5.4" fill="#ebb44b"/>
<circle cx="860.8" cy="345.0" r="5.4" fill="#ebb44b"/>
<circle cx="865.9" cy="345.0" r="5.4" fill="#ebb44b"/>
<circle cx="871.0" cy="345.0" r="5.4" fill="#ebb44b"/>
<circle cx="876.1" cy="345.0" r="5.4" fill="#ebb44b"/>
<circle cx="881.2" cy="345.0" r="5.4" fill="#ebb44b"/>
<circle cx="886.2" cy="345.0" r="5.4" fill="#ebb44b"/>
<circle cx="891.3" cy="345.0" r="5.4" fill="#ebb44b"/>
<circle cx="355.0" cy="117.0" r="5.4" fill="#ebb44b"/>
<circle cx="360.1" cy="117.0" r="5.4" fill="#ebb44b"/>
<circle cx="365.1" cy="117.0" r="5.4" fill="#ebb44b"/>
<circle cx="370.1" cy="117.0" r="5.4" fill="#ebb44b"/>
<circle cx="375.2" cy="117.0" r="5.4" fill="#ebb44b"/>
<circle cx="380.2" cy="117.0" r="5.4" fill="#ebb44b"/>
<circle cx="385.3" cy="117.0" r="5.4" fill="#ebb44b"/>
<circle cx="390.4" cy="117.0" r="5.4" fill="#ebb44b"/>
<circle cx="395.4" cy="117.0" r="5.4" fill="#ebb44b"/>
<circle cx="400.4" cy="117.0" r="5.4" fill="#ebb44b"/>
<circle cx="405.5" cy="117.0" r="5.4" fill="#ebb44b"/>
<circle cx="410.6" cy="117.0" r="5.4" fill="#ebb44b"/>
<circle cx="415.6" cy="117.0" r="5.4" fill="#ebb44b"/>
<circle cx="420.6" cy="117.0" r="5.4" fill="#ebb44b"/>
<circle cx="425.7" cy="117.0" r="5.4" fill="#ebb44b"/>
<circle cx="430.8" cy="117.0" r="5.4" fill="#ebb44b"/>
<circle cx="435.8" cy="117.0" r="5.4" fill="#ebb44b"/>
<circle cx="440.9" cy="117.0" r="5.4" fill="#ebb44b"/>
<circle cx="445.9" cy="117.0" r="5.4" fill="#ebb44b"/>
<circle cx="450.9" cy="117.0" r="5.4" fill="#ebb44b"/>
<circle cx="456.0" cy="117.0" r="5.4" fill="#ebb44b"/>
<circle cx="782.0" cy="117.0" r="5.4" fill="#ebb44b"/>
<circle cx="787.1" cy="117.0" r="5.4" fill="#ebb44b"/>
<circle cx="792.3" cy="117.0" r="5.4" fill="#ebb44b"/>
<circle cx="797.4" cy="117.0" r="5.4" fill="#ebb44b"/>
<circle cx="802.6" cy="117.0" r="5.4" fill="#ebb44b"/>
<circle cx="807.7" cy="117.0" r="5.4" fill="#ebb44b"/>
<circle cx="812.9" cy="117.0" r="5.4" fill="#ebb44b"/>
<circle cx="818.0" cy="117.0" r="5.4" fill="#ebb44b"/>
<circle cx="518.8" cy="345.5" r="5.4" fill="#ebb44b"/>
<circle cx="523.9" cy="345.5" r="5.4" fill="#ebb44b"/>
<circle cx="529.0" cy="345.5" r="5.4" fill="#ebb44b"/>
<circle cx="534.1" cy="345.5" r="5.4" fill="#ebb44b"/>
<circle cx="539.2" cy="345.5" r="5.4" fill="#ebb44b"/>
<circle cx="544.4" cy="345.5" r="5.4" fill="#ebb44b"/>
<circle cx="549.5" cy="345.5" r="5.4" fill="#ebb44b"/>
<circle cx="554.6" cy="345.5" r="5.4" fill="#ebb44b"/>
<circle cx="144.2" cy="121.6" r="5.4" fill="#cfd0d2"/>
<circle cx="149.5" cy="118.3" r="5.4" fill="#cfd0d2"/>
<circle cx="164.1" cy="122.0" r="5.4" fill="#cfd0d2"/>
<circle cx="174.3" cy="118.7" r="5.4" fill="#cfd0d2"/>
<circle cx="184.0" cy="118.9" r="5.4" fill="#cfd0d2"/>
<circle cx="194.0" cy="116.9" r="5.4" fill="#cfd0d2"/>
<circle cx="198.6" cy="128.2" r="5.4" fill="#cfd0d2"/>
<circle cx="204.6" cy="123.6" r="5.4" fill="#cfd0d2"/>
<circle cx="215.2" cy="116.7" r="5.4" fill="#cfd0d2"/>
<circle cx="223.8" cy="116.7" r="5.4" fill="#cfd0d2"/>
<circle cx="234.4" cy="116.7" r="5.4" fill="#cfd0d2"/>
<circle cx="264.3" cy="118.3" r="5.4" fill="#cfd0d2"/>
<circle cx="229.1" cy="128.2" r="5.4" fill="#cfd0d2"/>
<circle cx="239.1" cy="133.1" r="5.4" fill="#cfd0d2"/>
<circle cx="249.0" cy="146.8" r="5.4" fill="#cfd0d2"/>
<circle cx="259.2" cy="146.4" r="5.4" fill="#cfd0d2"/>
<circle cx="269.3" cy="150.5" r="5.4" fill="#cfd0d2"/>
<circle cx="274.2" cy="127.3" r="5.4" fill="#cfd0d2"/>
<circle cx="169.4" cy="139.2" r="5.4" fill="#cfd0d2"/>
<circle cx="254.3" cy="175.3" r="5.4" fill="#cfd0d2"/>
<circle cx="154.2" cy="249.5" r="5.4" fill="#cfd0d2"/>
<circle cx="294.1" cy="249.3" r="5.4" fill="#cfd0d2"/>
<circle cx="244.4" cy="320.2" r="5.4" fill="#cfd0d2"/>
<circle cx="284.2" cy="327.8" r="5.4" fill="#cfd0d2"/>
<circle cx="303.4" cy="331.1" r="5.4" fill="#cfd0d2"/>
<circle cx="299.4" cy="342.8" r="5.4" fill="#cfd0d2"/>
<circle cx="158.8" cy="341.1" r="5.4" fill="#cfd0d2"/>
<circle cx="209.2" cy="341.5" r="5.4" fill="#cfd0d2"/>
<circle cx="133.6" cy="345.0" r="5.4" fill="#cfd0d2"/>
<circle cx="139.6" cy="345.0" r="5.4" fill="#cfd0d2"/>
<circle cx="279.5" cy="345.0" r="5.4" fill="#cfd0d2"/>
<circle cx="474.8" cy="117.2" r="5.4" fill="#cfd0d2"/>
<circle cx="309.3" cy="148.8" r="5.4" fill="#cfd0d2"/>
<circle cx="329.4" cy="156.1" r="5.4" fill="#cfd0d2"/>
<circle cx="399.5" cy="192.3" r="5.4" fill="#cfd0d2"/>
<circle cx="349.3" cy="320.8" r="5.4" fill="#cfd0d2"/>
<circle cx="319.6" cy="331.8" r="5.4" fill="#cfd0d2"/>
<circle cx="334.5" cy="328.2" r="5.4" fill="#cfd0d2"/>
<circle cx="339.8" cy="336.4" r="5.4" fill="#cfd0d2"/>
<circle cx="304.0" cy="331.1" r="5.4" fill="#cfd0d2"/>
<circle cx="404.1" cy="339.1" r="5.4" fill="#cfd0d2"/>
<circle cx="459.8" cy="329.5" r="5.4" fill="#cfd0d2"/>
<circle cx="314.6" cy="343.7" r="5.4" fill="#cfd0d2"/>
<circle cx="324.5" cy="345.0" r="5.4" fill="#cfd0d2"/>
<circle cx="344.4" cy="345.0" r="5.4" fill="#cfd0d2"/>
<circle cx="464.5" cy="345.0" r="5.4" fill="#cfd0d2"/>
<circle cx="471.1" cy="345.0" r="5.4" fill="#cfd0d2"/>
<circle cx="475.0" cy="117.6" r="5.4" fill="#cfd0d2"/>
<circle cx="489.6" cy="116.7" r="5.4" fill="#cfd0d2"/>
<circle cx="514.8" cy="117.6" r="5.4" fill="#cfd0d2"/>
<circle cx="479.9" cy="192.9" r="5.4" fill="#cfd0d2"/>
<circle cx="629.9" cy="174.2" r="5.4" fill="#cfd0d2"/>
<circle cx="649.8" cy="174.0" r="5.4" fill="#cfd0d2"/>
<circle cx="595.0" cy="241.2" r="5.4" fill="#cfd0d2"/>
<circle cx="494.6" cy="289.3" r="5.4" fill="#cfd0d2"/>
<circle cx="499.8" cy="319.6" r="5.4" fill="#cfd0d2"/>
<circle cx="599.7" cy="335.1" r="5.4" fill="#cfd0d2"/>
<circle cx="654.1" cy="292.6" r="5.4" fill="#cfd0d2"/>
<circle cx="484.9" cy="342.4" r="5.4" fill="#cfd0d2"/>
<circle cx="529.4" cy="338.4" r="5.4" fill="#cfd0d2"/>
<circle cx="540.0" cy="340.4" r="5.4" fill="#cfd0d2"/>
<circle cx="549.9" cy="338.4" r="5.4" fill="#cfd0d2"/>
<circle cx="579.8" cy="339.7" r="5.4" fill="#cfd0d2"/>
<circle cx="644.8" cy="335.8" r="5.4" fill="#cfd0d2"/>
<circle cx="820.4" cy="126.9" r="5.4" fill="#cfd0d2"/>
<circle cx="720.3" cy="138.2" r="5.4" fill="#cfd0d2"/>
<circle cx="744.8" cy="132.6" r="5.4" fill="#cfd0d2"/>
<circle cx="750.1" cy="171.6" r="5.4" fill="#cfd0d2"/>
<circle cx="780.0" cy="174.2" r="5.4" fill="#cfd0d2"/>
<circle cx="651.3" cy="174.0" r="5.4" fill="#cfd0d2"/>
<circle cx="654.9" cy="292.9" r="5.4" fill="#cfd0d2"/>
<circle cx="730.2" cy="306.6" r="5.4" fill="#cfd0d2"/>
<circle cx="775.3" cy="294.0" r="5.4" fill="#cfd0d2"/>
<circle cx="760.1" cy="320.8" r="5.4" fill="#cfd0d2"/>
<circle cx="755.2" cy="328.2" r="5.4" fill="#cfd0d2"/>
<circle cx="659.9" cy="341.7" r="5.4" fill="#cfd0d2"/>
<circle cx="724.9" cy="344.4" r="5.4" fill="#cfd0d2"/>
<circle cx="735.6" cy="341.7" r="5.4" fill="#cfd0d2"/>
<circle cx="741.5" cy="345.0" r="5.4" fill="#cfd0d2"/>
<circle cx="827.7" cy="345.0" r="5.4" fill="#cfd0d2"/>
<circle cx="840.3" cy="116.7" r="5.4" fill="#cfd0d2"/>
<circle cx="850.9" cy="116.9" r="5.4" fill="#cfd0d2"/>
<circle cx="865.5" cy="117.2" r="5.4" fill="#cfd0d2"/>
<circle cx="885.4" cy="123.6" r="5.4" fill="#cfd0d2"/>
<circle cx="910.6" cy="130.5" r="5.4" fill="#cfd0d2"/>
<circle cx="920.5" cy="116.7" r="5.4" fill="#cfd0d2"/>
<circle cx="925.8" cy="116.7" r="5.4" fill="#cfd0d2"/>
<circle cx="970.6" cy="118.3" r="5.4" fill="#cfd0d2"/>
<circle cx="880.4" cy="176.6" r="5.4" fill="#cfd0d2"/>
<circle cx="905.2" cy="166.7" r="5.4" fill="#cfd0d2"/>
<circle cx="960.3" cy="161.8" r="5.4" fill="#cfd0d2"/>
<circle cx="975.6" cy="171.3" r="5.4" fill="#cfd0d2"/>
<circle cx="875.4" cy="263.1" r="5.4" fill="#cfd0d2"/>
<circle cx="890.4" cy="281.4" r="5.4" fill="#cfd0d2"/>
<circle cx="860.2" cy="303.3" r="5.4" fill="#cfd0d2"/>
<circle cx="950.3" cy="332.2" r="5.4" fill="#cfd0d2"/>
<circle cx="845.6" cy="345.0" r="5.4" fill="#cfd0d2"/>
<circle cx="855.5" cy="344.4" r="5.4" fill="#cfd0d2"/>
<circle cx="870.4" cy="336.4" r="5.4" fill="#cfd0d2"/>
<circle cx="895.3" cy="345.0" r="5.4" fill="#cfd0d2"/>
<circle cx="901.3" cy="342.4" r="5.4" fill="#cfd0d2"/>
<circle cx="915.2" cy="343.7" r="5.4" fill="#cfd0d2"/>
<circle cx="955.7" cy="345.0" r="5.4" fill="#cfd0d2"/>
<circle cx="965.6" cy="345.0" r="5.4" fill="#cfd0d2"/>
<circle cx="179.0" cy="117.5" r="5.4" fill="#cfd0d2"/>
<circle cx="189.0" cy="117.5" r="5.4" fill="#cfd0d2"/>
<circle cx="353.1" cy="345.0" r="5.4" fill="#cfd0d2"/>
<circle cx="358.1" cy="345.0" r="5.4" fill="#cfd0d2"/>
<circle cx="363.1" cy="345.0" r="5.4" fill="#cfd0d2"/>
<circle cx="368.1" cy="345.0" r="5.4" fill="#cfd0d2"/>
<circle cx="373.1" cy="345.0" r="5.4" fill="#cfd0d2"/>
<circle cx="378.1" cy="345.0" r="5.4" fill="#cfd0d2"/>
<circle cx="383.1" cy="345.0" r="5.4" fill="#cfd0d2"/>
<circle cx="388.1" cy="345.0" r="5.4" fill="#cfd0d2"/>
<circle cx="393.1" cy="345.0" r="5.4" fill="#cfd0d2"/>
<circle cx="398.2" cy="345.0" r="5.4" fill="#cfd0d2"/>
<circle cx="406.1" cy="345.0" r="5.4" fill="#cfd0d2"/>
<circle cx="410.9" cy="345.0" r="5.4" fill="#cfd0d2"/>
<circle cx="415.7" cy="345.0" r="5.4" fill="#cfd0d2"/>
<circle cx="420.4" cy="345.0" r="5.4" fill="#cfd0d2"/>
<circle cx="425.2" cy="345.0" r="5.4" fill="#cfd0d2"/>
<circle cx="430.0" cy="345.0" r="5.4" fill="#cfd0d2"/>
<circle cx="434.8" cy="345.0" r="5.4" fill="#cfd0d2"/>
<circle cx="439.5" cy="345.0" r="5.4" fill="#cfd0d2"/>
<circle cx="444.3" cy="345.0" r="5.4" fill="#cfd0d2"/>
<circle cx="449.1" cy="345.0" r="5.4" fill="#cfd0d2"/>
<circle cx="453.9" cy="345.0" r="5.4" fill="#cfd0d2"/>
<circle cx="501.5" cy="345.0" r="5.4" fill="#cfd0d2"/>
<circle cx="507.3" cy="345.0" r="5.4" fill="#cfd0d2"/>
<circle cx="513.0" cy="345.0" r="5.4" fill="#cfd0d2"/>
<circle cx="518.8" cy="345.0" r="5.4" fill="#cfd0d2"/>
<circle cx="554.6" cy="345.0" r="5.4" fill="#cfd0d2"/>
<circle cx="559.6" cy="345.0" r="5.4" fill="#cfd0d2"/>
<circle cx="564.5" cy="345.0" r="5.4" fill="#cfd0d2"/>
<circle cx="569.5" cy="345.0" r="5.4" fill="#cfd0d2"/>
<circle cx="574.5" cy="345.0" r="5.4" fill="#cfd0d2"/>
<circle cx="579.5" cy="345.0" r="5.4" fill="#cfd0d2"/>
<circle cx="584.4" cy="345.0" r="5.4" fill="#cfd0d2"/>
<circle cx="589.4" cy="345.0" r="5.4" fill="#cfd0d2"/>
<circle cx="594.4" cy="345.0" r="5.4" fill="#cfd0d2"/>
<circle cx="602.3" cy="345.0" r="5.4" fill="#cfd0d2"/>
<circle cx="607.6" cy="345.0" r="5.4" fill="#cfd0d2"/>
<circle cx="612.9" cy="345.0" r="5.4" fill="#cfd0d2"/>
<circle cx="618.3" cy="345.0" r="5.4" fill="#cfd0d2"/>
<circle cx="623.6" cy="345.0" r="5.4" fill="#cfd0d2"/>
<circle cx="628.9" cy="345.0" r="5.4" fill="#cfd0d2"/>
<circle cx="663.3" cy="345.0" r="5.4" fill="#cfd0d2"/>
<circle cx="668.3" cy="345.0" r="5.4" fill="#cfd0d2"/>
<circle cx="673.4" cy="345.0" r="5.4" fill="#cfd0d2"/>
<circle cx="678.5" cy="345.0" r="5.4" fill="#cfd0d2"/>
<circle cx="683.5" cy="345.0" r="5.4" fill="#cfd0d2"/>
<circle cx="688.6" cy="345.0" r="5.4" fill="#cfd0d2"/>
<circle cx="693.7" cy="345.0" r="5.4" fill="#cfd0d2"/>
<circle cx="698.7" cy="345.0" r="5.4" fill="#cfd0d2"/>
<circle cx="703.8" cy="345.0" r="5.4" fill="#cfd0d2"/>
<circle cx="708.8" cy="345.0" r="5.4" fill="#cfd0d2"/>
<circle cx="713.9" cy="345.0" r="5.4" fill="#cfd0d2"/>
<circle cx="719.0" cy="345.0" r="5.4" fill="#cfd0d2"/>
<circle cx="762.7" cy="345.0" r="5.4" fill="#cfd0d2"/>
<circle cx="768.7" cy="345.0" r="5.4" fill="#cfd0d2"/>
<circle cx="774.7" cy="345.0" r="5.4" fill="#cfd0d2"/>
<circle cx="781.3" cy="345.0" r="5.4" fill="#cfd0d2"/>
<circle cx="786.1" cy="345.0" r="5.4" fill="#cfd0d2"/>
<circle cx="790.9" cy="345.0" r="5.4" fill="#cfd0d2"/>
<circle cx="795.7" cy="345.0" r="5.4" fill="#cfd0d2"/>
<circle cx="800.6" cy="345.0" r="5.4" fill="#cfd0d2"/>
<circle cx="805.4" cy="345.0" r="5.4" fill="#cfd0d2"/>
<circle cx="810.2" cy="345.0" r="5.4" fill="#cfd0d2"/>
<circle cx="815.0" cy="345.0" r="5.4" fill="#cfd0d2"/>
<circle cx="819.8" cy="345.0" r="5.4" fill="#cfd0d2"/>
<circle cx="825.0" cy="345.0" r="5.4" fill="#cfd0d2"/>
<circle cx="829.9" cy="345.0" r="5.4" fill="#cfd0d2"/>
<circle cx="834.7" cy="345.0" r="5.4" fill="#cfd0d2"/>
<circle cx="839.6" cy="345.0" r="5.4" fill="#cfd0d2"/>
<circle cx="928.5" cy="345.0" r="5.4" fill="#cfd0d2"/>
<circle cx="933.8" cy="345.0" r="5.4" fill="#cfd0d2"/>
<circle cx="939.1" cy="345.0" r="5.4" fill="#cfd0d2"/>
<circle cx="944.4" cy="345.0" r="5.4" fill="#cfd0d2"/>
<circle cx="949.7" cy="345.0" r="5.4" fill="#cfd0d2"/>
<circle cx="510.2" cy="116.3" r="5.4" fill="#8cc8eb"/>
<circle cx="534.7" cy="116.7" r="5.4" fill="#8cc8eb"/>
<circle cx="529.6" cy="123.6" r="5.4" fill="#8cc8eb"/>
<circle cx="544.6" cy="121.6" r="5.4" fill="#8cc8eb"/>
<circle cx="554.6" cy="118.9" r="5.4" fill="#8cc8eb"/>
<circle cx="559.9" cy="116.9" r="5.4" fill="#8cc8eb"/>
<circle cx="585.1" cy="116.7" r="5.4" fill="#8cc8eb"/>
<circle cx="590.4" cy="116.7" r="5.4" fill="#8cc8eb"/>
<circle cx="620.2" cy="118.3" r="5.4" fill="#8cc8eb"/>
<circle cx="634.8" cy="122.2" r="5.4" fill="#8cc8eb"/>
<circle cx="640.1" cy="119.9" r="5.4" fill="#8cc8eb"/>
<circle cx="484.7" cy="128.6" r="5.4" fill="#8cc8eb"/>
<circle cx="549.9" cy="131.9" r="5.4" fill="#8cc8eb"/>
<circle cx="575.1" cy="132.6" r="5.4" fill="#8cc8eb"/>
<circle cx="599.7" cy="125.6" r="5.4" fill="#8cc8eb"/>
<circle cx="659.9" cy="119.9" r="5.4" fill="#8cc8eb"/>
<circle cx="665.3" cy="118.0" r="5.4" fill="#8cc8eb"/>
</g>
<line x1="305.3" y1="114.3" x2="305.3" y2="352" stroke="#231f20" stroke-width="2" stroke-dasharray="2.6 10.1"/>
<line x1="455.6" y1="114.3" x2="455.6" y2="352" stroke="#231f20" stroke-width="2" stroke-dasharray="2.6 10.1"/>
<line x1="676.1" y1="114.3" x2="676.1" y2="352" stroke="#231f20" stroke-width="2" stroke-dasharray="2.6 10.1"/>
<line x1="821.1" y1="114.3" x2="821.1" y2="352" stroke="#231f20" stroke-width="2" stroke-dasharray="2.6 10.1"/>
<text x="550.6" y="418.4" font-size="25.5" text-anchor="middle" fill="#231f20" >Lap</text>
<text x="41.0" y="232.0" font-size="25.5" text-anchor="middle" transform="rotate(-90 41.0 232.0)" fill="#231f20" >dmPFC Decoded</text>
<text x="72.5" y="228.5" font-size="25.5" text-anchor="middle" transform="rotate(-90 72.5 228.5)" fill="#231f20" >p(Contingency)</text>
<text x="542.0" y="30.2" font-size="25.0" text-anchor="middle" font-weight="bold" fill="#231f20" >R422-2017-05-31</text>
<rect x="312.6" y="40.3" width="489.4" height="42.4" fill="#ffffff" stroke="#231f20" stroke-width="2"/>
<circle cx="333" cy="63" r="7" fill="#8cc8eb"/>
<text x="351.0" y="72.1" font-size="21.2" text-anchor="start" fill="#231f20" >L</text>
<circle cx="404.5" cy="63" r="7" fill="#ebb44b"/>
<text x="422.0" y="72.1" font-size="21.2" text-anchor="start" fill="#231f20" >R</text>
<circle cx="487" cy="63" r="7" fill="#cfd0d2"/>
<text x="503.3" y="72.1" font-size="21.2" text-anchor="start" fill="#231f20" >A</text>
<rect x="555.4" y="56.7" width="10.3" height="10.3" fill="#5db1e1"/>
<rect x="565.7" y="56.7" width="10.3" height="10.3" fill="#ebb44b"/>
<rect x="576.0" y="56.7" width="10.3" height="10.3" fill="#cfd0d2"/>
<text x="592.0" y="70.3" font-size="21.2" text-anchor="start" fill="#231f20" >Imposed contingency</text>
<polyline points="1137.3,41.3 1137.3,380.0 1352.1,380.0 1352.1,41.3 1137.3,41.3" fill="none" stroke="#231f20" stroke-width="2"/>
<line x1="1137.3" y1="380.0" x2="1140.7" y2="380.0" stroke="#231f20" stroke-width="2"/>
<line x1="1352.1" y1="380.0" x2="1349.1" y2="380.0" stroke="#231f20" stroke-width="2"/>
<text transform="translate(1127.3 387.3) scale(1 1.06)" x="0" y="0" font-size="21.0" text-anchor="end" fill="#231f20" >0</text>
<line x1="1137.3" y1="210.7" x2="1140.7" y2="210.7" stroke="#231f20" stroke-width="2"/>
<line x1="1352.1" y1="210.7" x2="1349.1" y2="210.7" stroke="#231f20" stroke-width="2"/>
<text transform="translate(1130.3 220.0) scale(1 1.06)" x="0" y="0" font-size="21.0" text-anchor="end" fill="#231f20" >0.5</text>
<line x1="1137.3" y1="41.3" x2="1140.7" y2="41.3" stroke="#231f20" stroke-width="2"/>
<line x1="1352.1" y1="41.3" x2="1349.1" y2="41.3" stroke="#231f20" stroke-width="2"/>
<text transform="translate(1127.3 47.0) scale(1 1.06)" x="0" y="0" font-size="21.0" text-anchor="end" fill="#231f20" >1</text>
<line x1="1202.8" y1="380.0" x2="1202.8" y2="371.5" stroke="#231f20" stroke-width="2"/>
<line x1="1297.0" y1="380.0" x2="1297.0" y2="371.5" stroke="#231f20" stroke-width="2"/>
<text x="1202.5" y="408.0" font-size="25.5" text-anchor="middle" fill="#231f20" >dmPFC</text>
<text x="1296.0" y="408.0" font-size="25.5" text-anchor="middle" fill="#231f20" >CA1</text>
<text x="1063.0" y="217.0" font-size="25.5" text-anchor="middle" transform="rotate(-90 1063.0 217.0)" fill="#231f20" >Contingency</text>
<text x="1094.5" y="217.5" font-size="25.5" text-anchor="middle" transform="rotate(-90 1094.5 217.5)" fill="#231f20" >Decoding Accuracy</text>
<line x1="1137.3" y1="266.8" x2="1350.1" y2="266.8" stroke="#231f20" stroke-width="2.3" stroke-dasharray="3.7 8.95"/>
<circle cx="1193.1" cy="99.6" r="2.6" fill="#bdbec0"/>
<circle cx="1184.1" cy="105.5" r="2.6" fill="#bdbec0"/>
<circle cx="1187.6" cy="115.2" r="2.6" fill="#bdbec0"/>
<circle cx="1226.6" cy="117.6" r="2.6" fill="#bdbec0"/>
<circle cx="1192.0" cy="135.9" r="2.6" fill="#bdbec0"/>
<circle cx="1192.7" cy="140.1" r="2.6" fill="#bdbec0"/>
<circle cx="1194.2" cy="143.2" r="2.6" fill="#bdbec0"/>
<circle cx="1222.7" cy="135.5" r="2.6" fill="#bdbec0"/>
<circle cx="1185.7" cy="146.9" r="2.6" fill="#bdbec0"/>
<circle cx="1210.8" cy="145.1" r="2.6" fill="#bdbec0"/>
<circle cx="1222.2" cy="145.8" r="2.6" fill="#bdbec0"/>
<circle cx="1205.6" cy="152.6" r="2.6" fill="#bdbec0"/>
<circle cx="1207.1" cy="153.4" r="2.6" fill="#bdbec0"/>
<circle cx="1217.2" cy="154.3" r="2.6" fill="#bdbec0"/>
<circle cx="1206.4" cy="162.4" r="2.6" fill="#bdbec0"/>
<circle cx="1179.1" cy="168.5" r="2.6" fill="#bdbec0"/>
<circle cx="1186.8" cy="167.2" r="2.6" fill="#bdbec0"/>
<circle cx="1190.1" cy="172.0" r="2.6" fill="#bdbec0"/>
<circle cx="1210.8" cy="172.7" r="2.6" fill="#bdbec0"/>
<circle cx="1208.0" cy="175.5" r="2.6" fill="#bdbec0"/>
<circle cx="1190.9" cy="180.8" r="2.6" fill="#bdbec0"/>
<circle cx="1217.6" cy="180.6" r="2.6" fill="#bdbec0"/>
<circle cx="1230.3" cy="185.8" r="2.6" fill="#bdbec0"/>
<circle cx="1190.3" cy="191.9" r="2.6" fill="#bdbec0"/>
<circle cx="1198.6" cy="193.3" r="2.6" fill="#bdbec0"/>
<circle cx="1201.6" cy="195.4" r="2.6" fill="#bdbec0"/>
<circle cx="1219.1" cy="192.6" r="2.6" fill="#bdbec0"/>
<circle cx="1183.1" cy="199.4" r="2.6" fill="#bdbec0"/>
<circle cx="1175.4" cy="203.3" r="2.6" fill="#bdbec0"/>
<circle cx="1192.4" cy="206.8" r="2.6" fill="#bdbec0"/>
<circle cx="1225.9" cy="207.5" r="2.6" fill="#bdbec0"/>
<circle cx="1166.0" cy="208.8" r="2.6" fill="#bdbec0"/>
<circle cx="1167.1" cy="214.0" r="2.6" fill="#bdbec0"/>
<circle cx="1216.3" cy="214.3" r="2.6" fill="#bdbec0"/>
<circle cx="1202.5" cy="222.4" r="2.6" fill="#bdbec0"/>
<circle cx="1206.7" cy="223.0" r="2.6" fill="#bdbec0"/>
<circle cx="1210.8" cy="228.7" r="2.6" fill="#bdbec0"/>
<circle cx="1175.8" cy="234.8" r="2.6" fill="#bdbec0"/>
<circle cx="1308.7" cy="76.2" r="2.6" fill="#bdbec0"/>
<circle cx="1274.5" cy="136.6" r="2.6" fill="#bdbec0"/>
<circle cx="1306.5" cy="141.8" r="2.6" fill="#bdbec0"/>
<circle cx="1279.5" cy="149.7" r="2.6" fill="#bdbec0"/>
<circle cx="1285.4" cy="147.3" r="2.6" fill="#bdbec0"/>
<circle cx="1289.4" cy="150.8" r="2.6" fill="#bdbec0"/>
<circle cx="1302.3" cy="158.9" r="2.6" fill="#bdbec0"/>
<circle cx="1302.9" cy="163.5" r="2.6" fill="#bdbec0"/>
<circle cx="1301.9" cy="165.9" r="2.6" fill="#bdbec0"/>
<circle cx="1324.0" cy="162.2" r="2.6" fill="#bdbec0"/>
<circle cx="1303.8" cy="171.4" r="2.6" fill="#bdbec0"/>
<circle cx="1296.8" cy="177.5" r="2.6" fill="#bdbec0"/>
<circle cx="1281.9" cy="183.4" r="2.6" fill="#bdbec0"/>
<circle cx="1318.9" cy="182.5" r="2.6" fill="#bdbec0"/>
<circle cx="1286.3" cy="194.3" r="2.6" fill="#bdbec0"/>
<circle cx="1317.2" cy="190.2" r="2.6" fill="#bdbec0"/>
<circle cx="1327.3" cy="190.4" r="2.6" fill="#bdbec0"/>
<circle cx="1312.8" cy="194.3" r="2.6" fill="#bdbec0"/>
<circle cx="1281.3" cy="201.3" r="2.6" fill="#bdbec0"/>
<circle cx="1298.4" cy="199.6" r="2.6" fill="#bdbec0"/>
<circle cx="1307.6" cy="207.3" r="2.6" fill="#bdbec0"/>
<circle cx="1312.1" cy="211.9" r="2.6" fill="#bdbec0"/>
<circle cx="1275.6" cy="211.6" r="2.6" fill="#bdbec0"/>
<circle cx="1282.6" cy="213.2" r="2.6" fill="#bdbec0"/>
<circle cx="1287.2" cy="209.2" r="2.6" fill="#bdbec0"/>
<circle cx="1320.0" cy="215.2" r="2.6" fill="#bdbec0"/>
<circle cx="1328.6" cy="218.0" r="2.6" fill="#bdbec0"/>
<circle cx="1301.0" cy="216.2" r="2.6" fill="#bdbec0"/>
<circle cx="1306.5" cy="219.3" r="2.6" fill="#bdbec0"/>
<circle cx="1287.2" cy="223.9" r="2.6" fill="#bdbec0"/>
<circle cx="1298.3" cy="229.4" r="2.6" fill="#bdbec0"/>
<circle cx="1288.5" cy="232.2" r="2.6" fill="#bdbec0"/>
<circle cx="1296.8" cy="236.4" r="2.6" fill="#bdbec0"/>
<circle cx="1303.8" cy="239.0" r="2.6" fill="#bdbec0"/>
<circle cx="1278.9" cy="240.1" r="2.6" fill="#bdbec0"/>
<circle cx="1292.2" cy="246.6" r="2.6" fill="#bdbec0"/>
<circle cx="1282.6" cy="250.6" r="2.6" fill="#bdbec0"/>
<circle cx="1295.5" cy="255.6" r="2.6" fill="#bdbec0"/>
<rect x="1189.6" y="146.6" width="27.100000000000136" height="57.20000000000002" fill="none" stroke="#231f20" stroke-width="1.9"/>
<line x1="1189.6" y1="174.9" x2="1216.7" y2="174.9" stroke="#231f20" stroke-width="1.9"/>
<line x1="1203.2" y1="99.6" x2="1203.2" y2="146.6" stroke="#231f20" stroke-width="1.9"/>
<line x1="1203.2" y1="203.8" x2="1203.2" y2="234.6" stroke="#231f20" stroke-width="1.9"/>
<line x1="1195.7" y1="99.6" x2="1210.8" y2="99.6" stroke="#231f20" stroke-width="1.9"/>
<line x1="1195.7" y1="234.6" x2="1210.8" y2="234.6" stroke="#231f20" stroke-width="1.9"/>
<rect x="1284.4" y="168.8" width="26.199999999999818" height="52.89999999999998" fill="none" stroke="#231f20" stroke-width="1.9"/>
<line x1="1284.4" y1="203.5" x2="1310.6" y2="203.5" stroke="#231f20" stroke-width="1.9"/>
<line x1="1297.5" y1="136.6" x2="1297.5" y2="168.8" stroke="#231f20" stroke-width="1.9"/>
<line x1="1297.5" y1="221.7" x2="1297.5" y2="255.6" stroke="#231f20" stroke-width="1.9"/>
<line x1="1290.3" y1="136.6" x2="1304.7" y2="136.6" stroke="#231f20" stroke-width="1.9"/>
<line x1="1290.3" y1="255.6" x2="1304.7" y2="255.6" stroke="#231f20" stroke-width="1.9"/>
<path d="M1292.3,76.6 H1302.3" stroke="#231f20" stroke-width="2.8" fill="none"/><path d="M1297.4,70.1 V82.8" stroke="#231f20" stroke-width="3.0" fill="none"/>
<polyline points="1203.2,251.5 1203.2,299.2 1297.3,299.2 1297.3,271.8" fill="none" stroke="#231f20" stroke-width="2"/>
<text x="1249.8" y="322.5" font-size="22.8" text-anchor="middle" fill="#231f20" >*</text>
</svg>
</body></html>
